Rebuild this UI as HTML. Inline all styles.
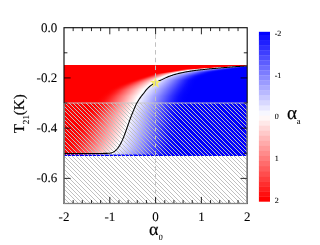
<!DOCTYPE html><html><head><meta charset="utf-8"><style>text{font-family:"Liberation Serif",serif;fill:#000;stroke:#000;stroke-width:0.08px;text-rendering:geometricPrecision}html,body{margin:0;padding:0;background:#fff}body{width:320px;height:245px;overflow:hidden;font-family:"Liberation Serif",serif}</style></head><body><svg width="320" height="245" viewBox="0 0 320 245" style="display:block;will-change:transform"><defs><linearGradient id="g0" gradientUnits="userSpaceOnUse" x1="0" y1="0" x2="320" y2="0"><stop offset="0.7547" stop-color="#ff0000"/><stop offset="0.7575" stop-color="#ff0404"/><stop offset="0.7597" stop-color="#ff0d0d"/><stop offset="0.7620" stop-color="#ff1d1d"/><stop offset="0.7643" stop-color="#ff3333"/><stop offset="0.7825" stop-color="#ffffff"/><stop offset="0.7916" stop-color="#c9c9ff"/><stop offset="0.8006" stop-color="#8a8aff"/><stop offset="0.8115" stop-color="#3838ff"/><stop offset="0.8151" stop-color="#2020ff"/><stop offset="0.8187" stop-color="#0d0dff"/><stop offset="0.8224" stop-color="#0404ff"/><stop offset="0.8267" stop-color="#0000ff"/></linearGradient><linearGradient id="g1" gradientUnits="userSpaceOnUse" x1="0" y1="0" x2="320" y2="0"><stop offset="0.7002" stop-color="#ff0000"/><stop offset="0.7029" stop-color="#ff0404"/><stop offset="0.7051" stop-color="#ff0d0d"/><stop offset="0.7073" stop-color="#ff1d1d"/><stop offset="0.7095" stop-color="#ff3333"/><stop offset="0.7271" stop-color="#ffffff"/><stop offset="0.7411" stop-color="#c9c9ff"/><stop offset="0.7551" stop-color="#8a8aff"/><stop offset="0.7720" stop-color="#3838ff"/><stop offset="0.7776" stop-color="#2020ff"/><stop offset="0.7832" stop-color="#0d0dff"/><stop offset="0.7888" stop-color="#0404ff"/><stop offset="0.7955" stop-color="#0000ff"/></linearGradient><linearGradient id="g2" gradientUnits="userSpaceOnUse" x1="0" y1="0" x2="320" y2="0"><stop offset="0.6520" stop-color="#ff0000"/><stop offset="0.6552" stop-color="#ff0404"/><stop offset="0.6578" stop-color="#ff0d0d"/><stop offset="0.6605" stop-color="#ff1d1d"/><stop offset="0.6631" stop-color="#ff3333"/><stop offset="0.6844" stop-color="#ffffff"/><stop offset="0.7008" stop-color="#c9c9ff"/><stop offset="0.7172" stop-color="#8a8aff"/><stop offset="0.7369" stop-color="#3838ff"/><stop offset="0.7434" stop-color="#2020ff"/><stop offset="0.7500" stop-color="#0d0dff"/><stop offset="0.7566" stop-color="#0404ff"/><stop offset="0.7644" stop-color="#0000ff"/></linearGradient><linearGradient id="g3" gradientUnits="userSpaceOnUse" x1="0" y1="0" x2="320" y2="0"><stop offset="0.6069" stop-color="#ff0000"/><stop offset="0.6108" stop-color="#ff0404"/><stop offset="0.6141" stop-color="#ff0d0d"/><stop offset="0.6173" stop-color="#ff1d1d"/><stop offset="0.6206" stop-color="#ff3333"/><stop offset="0.6466" stop-color="#ffffff"/><stop offset="0.6665" stop-color="#c9c9ff"/><stop offset="0.6864" stop-color="#8a8aff"/><stop offset="0.7103" stop-color="#3838ff"/><stop offset="0.7182" stop-color="#2020ff"/><stop offset="0.7262" stop-color="#0d0dff"/><stop offset="0.7341" stop-color="#0404ff"/><stop offset="0.7437" stop-color="#0000ff"/></linearGradient><linearGradient id="g4" gradientUnits="userSpaceOnUse" x1="0" y1="0" x2="320" y2="0"><stop offset="0.5624" stop-color="#ff0000"/><stop offset="0.5675" stop-color="#ff0404"/><stop offset="0.5717" stop-color="#ff0d0d"/><stop offset="0.5759" stop-color="#ff1d1d"/><stop offset="0.5802" stop-color="#ff3333"/><stop offset="0.6141" stop-color="#ffffff"/><stop offset="0.6361" stop-color="#c9c9ff"/><stop offset="0.6582" stop-color="#8a8aff"/><stop offset="0.6847" stop-color="#3838ff"/><stop offset="0.6935" stop-color="#2020ff"/><stop offset="0.7024" stop-color="#0d0dff"/><stop offset="0.7112" stop-color="#0404ff"/><stop offset="0.7218" stop-color="#0000ff"/></linearGradient><linearGradient id="g5" gradientUnits="userSpaceOnUse" x1="0" y1="0" x2="320" y2="0"><stop offset="0.5483" stop-color="#ff0000"/><stop offset="0.5520" stop-color="#ff0404"/><stop offset="0.5551" stop-color="#ff0d0d"/><stop offset="0.5582" stop-color="#ff1d1d"/><stop offset="0.5613" stop-color="#ff3333"/><stop offset="0.5862" stop-color="#ffffff"/><stop offset="0.6102" stop-color="#c9c9ff"/><stop offset="0.6343" stop-color="#8a8aff"/><stop offset="0.6632" stop-color="#3838ff"/><stop offset="0.6728" stop-color="#2020ff"/><stop offset="0.6824" stop-color="#0d0dff"/><stop offset="0.6920" stop-color="#0404ff"/><stop offset="0.7036" stop-color="#0000ff"/></linearGradient><linearGradient id="g6" gradientUnits="userSpaceOnUse" x1="0" y1="0" x2="320" y2="0"><stop offset="0.5295" stop-color="#ff0000"/><stop offset="0.5332" stop-color="#ff0404"/><stop offset="0.5362" stop-color="#ff0d0d"/><stop offset="0.5393" stop-color="#ff1d1d"/><stop offset="0.5423" stop-color="#ff3333"/><stop offset="0.5666" stop-color="#ffffff"/><stop offset="0.5906" stop-color="#c9c9ff"/><stop offset="0.6147" stop-color="#8a8aff"/><stop offset="0.6436" stop-color="#3838ff"/><stop offset="0.6533" stop-color="#2020ff"/><stop offset="0.6629" stop-color="#0d0dff"/><stop offset="0.6725" stop-color="#0404ff"/><stop offset="0.6841" stop-color="#0000ff"/></linearGradient><linearGradient id="g7" gradientUnits="userSpaceOnUse" x1="0" y1="0" x2="320" y2="0"><stop offset="0.5071" stop-color="#ff0000"/><stop offset="0.5116" stop-color="#ff0404"/><stop offset="0.5153" stop-color="#ff0d0d"/><stop offset="0.5190" stop-color="#ff1d1d"/><stop offset="0.5227" stop-color="#ff3333"/><stop offset="0.5525" stop-color="#ffffff"/><stop offset="0.5764" stop-color="#c9c9ff"/><stop offset="0.6004" stop-color="#8a8aff"/><stop offset="0.6291" stop-color="#3838ff"/><stop offset="0.6387" stop-color="#2020ff"/><stop offset="0.6482" stop-color="#0d0dff"/><stop offset="0.6578" stop-color="#0404ff"/><stop offset="0.6693" stop-color="#0000ff"/></linearGradient><linearGradient id="g8" gradientUnits="userSpaceOnUse" x1="0" y1="0" x2="320" y2="0"><stop offset="0.4852" stop-color="#ff0000"/><stop offset="0.4907" stop-color="#ff0404"/><stop offset="0.4952" stop-color="#ff0d0d"/><stop offset="0.4997" stop-color="#ff1d1d"/><stop offset="0.5043" stop-color="#ff3333"/><stop offset="0.5405" stop-color="#ffffff"/><stop offset="0.5650" stop-color="#c9c9ff"/><stop offset="0.5895" stop-color="#8a8aff"/><stop offset="0.6189" stop-color="#3838ff"/><stop offset="0.6287" stop-color="#2020ff"/><stop offset="0.6385" stop-color="#0d0dff"/><stop offset="0.6483" stop-color="#0404ff"/><stop offset="0.6600" stop-color="#0000ff"/></linearGradient><linearGradient id="g9" gradientUnits="userSpaceOnUse" x1="0" y1="0" x2="320" y2="0"><stop offset="0.4699" stop-color="#ff0000"/><stop offset="0.4758" stop-color="#ff0404"/><stop offset="0.4807" stop-color="#ff0d0d"/><stop offset="0.4856" stop-color="#ff1d1d"/><stop offset="0.4905" stop-color="#ff3333"/><stop offset="0.5298" stop-color="#ffffff"/><stop offset="0.5545" stop-color="#c9c9ff"/><stop offset="0.5793" stop-color="#8a8aff"/><stop offset="0.6089" stop-color="#3838ff"/><stop offset="0.6188" stop-color="#2020ff"/><stop offset="0.6287" stop-color="#0d0dff"/><stop offset="0.6386" stop-color="#0404ff"/><stop offset="0.6505" stop-color="#0000ff"/></linearGradient><linearGradient id="g10" gradientUnits="userSpaceOnUse" x1="0" y1="0" x2="320" y2="0"><stop offset="0.4601" stop-color="#ff0000"/><stop offset="0.4660" stop-color="#ff0404"/><stop offset="0.4709" stop-color="#ff0d0d"/><stop offset="0.4759" stop-color="#ff1d1d"/><stop offset="0.4808" stop-color="#ff3333"/><stop offset="0.5203" stop-color="#ffffff"/><stop offset="0.5450" stop-color="#c9c9ff"/><stop offset="0.5696" stop-color="#8a8aff"/><stop offset="0.5992" stop-color="#3838ff"/><stop offset="0.6091" stop-color="#2020ff"/><stop offset="0.6189" stop-color="#0d0dff"/><stop offset="0.6288" stop-color="#0404ff"/><stop offset="0.6406" stop-color="#0000ff"/></linearGradient><linearGradient id="g11" gradientUnits="userSpaceOnUse" x1="0" y1="0" x2="320" y2="0"><stop offset="0.4498" stop-color="#ff0000"/><stop offset="0.4560" stop-color="#ff0404"/><stop offset="0.4611" stop-color="#ff0d0d"/><stop offset="0.4663" stop-color="#ff1d1d"/><stop offset="0.4714" stop-color="#ff3333"/><stop offset="0.5125" stop-color="#ffffff"/><stop offset="0.5372" stop-color="#c9c9ff"/><stop offset="0.5619" stop-color="#8a8aff"/><stop offset="0.5915" stop-color="#3838ff"/><stop offset="0.6014" stop-color="#2020ff"/><stop offset="0.6113" stop-color="#0d0dff"/><stop offset="0.6212" stop-color="#0404ff"/><stop offset="0.6330" stop-color="#0000ff"/></linearGradient><linearGradient id="g12" gradientUnits="userSpaceOnUse" x1="0" y1="0" x2="320" y2="0"><stop offset="0.4399" stop-color="#ff0000"/><stop offset="0.4463" stop-color="#ff0404"/><stop offset="0.4516" stop-color="#ff0d0d"/><stop offset="0.4569" stop-color="#ff1d1d"/><stop offset="0.4622" stop-color="#ff3333"/><stop offset="0.5047" stop-color="#ffffff"/><stop offset="0.5300" stop-color="#c9c9ff"/><stop offset="0.5552" stop-color="#8a8aff"/><stop offset="0.5856" stop-color="#3838ff"/><stop offset="0.5957" stop-color="#2020ff"/><stop offset="0.6058" stop-color="#0d0dff"/><stop offset="0.6159" stop-color="#0404ff"/><stop offset="0.6280" stop-color="#0000ff"/></linearGradient><linearGradient id="g13" gradientUnits="userSpaceOnUse" x1="0" y1="0" x2="320" y2="0"><stop offset="0.4300" stop-color="#ff0000"/><stop offset="0.4367" stop-color="#ff0404"/><stop offset="0.4422" stop-color="#ff0d0d"/><stop offset="0.4477" stop-color="#ff1d1d"/><stop offset="0.4532" stop-color="#ff3333"/><stop offset="0.4974" stop-color="#ffffff"/><stop offset="0.5231" stop-color="#c9c9ff"/><stop offset="0.5488" stop-color="#8a8aff"/><stop offset="0.5797" stop-color="#3838ff"/><stop offset="0.5900" stop-color="#2020ff"/><stop offset="0.6003" stop-color="#0d0dff"/><stop offset="0.6106" stop-color="#0404ff"/><stop offset="0.6229" stop-color="#0000ff"/></linearGradient><linearGradient id="g14" gradientUnits="userSpaceOnUse" x1="0" y1="0" x2="320" y2="0"><stop offset="0.4200" stop-color="#ff0000"/><stop offset="0.4270" stop-color="#ff0404"/><stop offset="0.4328" stop-color="#ff0d0d"/><stop offset="0.4386" stop-color="#ff1d1d"/><stop offset="0.4444" stop-color="#ff3333"/><stop offset="0.4909" stop-color="#ffffff"/><stop offset="0.5168" stop-color="#c9c9ff"/><stop offset="0.5428" stop-color="#8a8aff"/><stop offset="0.5740" stop-color="#3838ff"/><stop offset="0.5844" stop-color="#2020ff"/><stop offset="0.5948" stop-color="#0d0dff"/><stop offset="0.6052" stop-color="#0404ff"/><stop offset="0.6176" stop-color="#0000ff"/></linearGradient><linearGradient id="g15" gradientUnits="userSpaceOnUse" x1="0" y1="0" x2="320" y2="0"><stop offset="0.4103" stop-color="#ff0000"/><stop offset="0.4176" stop-color="#ff0404"/><stop offset="0.4237" stop-color="#ff0d0d"/><stop offset="0.4299" stop-color="#ff1d1d"/><stop offset="0.4360" stop-color="#ff3333"/><stop offset="0.4848" stop-color="#ffffff"/><stop offset="0.5111" stop-color="#c9c9ff"/><stop offset="0.5375" stop-color="#8a8aff"/><stop offset="0.5691" stop-color="#3838ff"/><stop offset="0.5796" stop-color="#2020ff"/><stop offset="0.5901" stop-color="#0d0dff"/><stop offset="0.6007" stop-color="#0404ff"/><stop offset="0.6133" stop-color="#0000ff"/></linearGradient><linearGradient id="g16" gradientUnits="userSpaceOnUse" x1="0" y1="0" x2="320" y2="0"><stop offset="0.4005" stop-color="#ff0000"/><stop offset="0.4084" stop-color="#ff0404"/><stop offset="0.4150" stop-color="#ff0d0d"/><stop offset="0.4216" stop-color="#ff1d1d"/><stop offset="0.4282" stop-color="#ff3333"/><stop offset="0.4808" stop-color="#ffffff"/><stop offset="0.5076" stop-color="#c9c9ff"/><stop offset="0.5345" stop-color="#8a8aff"/><stop offset="0.5667" stop-color="#3838ff"/><stop offset="0.5775" stop-color="#2020ff"/><stop offset="0.5882" stop-color="#0d0dff"/><stop offset="0.5990" stop-color="#0404ff"/><stop offset="0.6119" stop-color="#0000ff"/></linearGradient><linearGradient id="g17" gradientUnits="userSpaceOnUse" x1="0" y1="0" x2="320" y2="0"><stop offset="0.3908" stop-color="#ff0000"/><stop offset="0.3992" stop-color="#ff0404"/><stop offset="0.4062" stop-color="#ff0d0d"/><stop offset="0.4133" stop-color="#ff1d1d"/><stop offset="0.4203" stop-color="#ff3333"/><stop offset="0.4767" stop-color="#ffffff"/><stop offset="0.5041" stop-color="#c9c9ff"/><stop offset="0.5315" stop-color="#8a8aff"/><stop offset="0.5644" stop-color="#3838ff"/><stop offset="0.5754" stop-color="#2020ff"/><stop offset="0.5863" stop-color="#0d0dff"/><stop offset="0.5973" stop-color="#0404ff"/><stop offset="0.6105" stop-color="#0000ff"/></linearGradient><linearGradient id="g18" gradientUnits="userSpaceOnUse" x1="0" y1="0" x2="320" y2="0"><stop offset="0.3829" stop-color="#ff0000"/><stop offset="0.3918" stop-color="#ff0404"/><stop offset="0.3991" stop-color="#ff0d0d"/><stop offset="0.4065" stop-color="#ff1d1d"/><stop offset="0.4138" stop-color="#ff3333"/><stop offset="0.4726" stop-color="#ffffff"/><stop offset="0.5006" stop-color="#c9c9ff"/><stop offset="0.5285" stop-color="#8a8aff"/><stop offset="0.5621" stop-color="#3838ff"/><stop offset="0.5733" stop-color="#2020ff"/><stop offset="0.5844" stop-color="#0d0dff"/><stop offset="0.5956" stop-color="#0404ff"/><stop offset="0.6090" stop-color="#0000ff"/></linearGradient><linearGradient id="g19" gradientUnits="userSpaceOnUse" x1="0" y1="0" x2="320" y2="0"><stop offset="0.3751" stop-color="#ff0000"/><stop offset="0.3843" stop-color="#ff0404"/><stop offset="0.3920" stop-color="#ff0d0d"/><stop offset="0.3996" stop-color="#ff1d1d"/><stop offset="0.4073" stop-color="#ff3333"/><stop offset="0.4686" stop-color="#ffffff"/><stop offset="0.4971" stop-color="#c9c9ff"/><stop offset="0.5256" stop-color="#8a8aff"/><stop offset="0.5597" stop-color="#3838ff"/><stop offset="0.5711" stop-color="#2020ff"/><stop offset="0.5825" stop-color="#0d0dff"/><stop offset="0.5939" stop-color="#0404ff"/><stop offset="0.6076" stop-color="#0000ff"/></linearGradient><linearGradient id="g20" gradientUnits="userSpaceOnUse" x1="0" y1="0" x2="320" y2="0"><stop offset="0.3673" stop-color="#ff0000"/><stop offset="0.3769" stop-color="#ff0404"/><stop offset="0.3848" stop-color="#ff0d0d"/><stop offset="0.3928" stop-color="#ff1d1d"/><stop offset="0.4008" stop-color="#ff3333"/><stop offset="0.4645" stop-color="#ffffff"/><stop offset="0.4936" stop-color="#c9c9ff"/><stop offset="0.5226" stop-color="#8a8aff"/><stop offset="0.5574" stop-color="#3838ff"/><stop offset="0.5690" stop-color="#2020ff"/><stop offset="0.5806" stop-color="#0d0dff"/><stop offset="0.5922" stop-color="#0404ff"/><stop offset="0.6062" stop-color="#0000ff"/></linearGradient><linearGradient id="g21" gradientUnits="userSpaceOnUse" x1="0" y1="0" x2="320" y2="0"><stop offset="0.3604" stop-color="#ff0000"/><stop offset="0.3703" stop-color="#ff0404"/><stop offset="0.3785" stop-color="#ff0d0d"/><stop offset="0.3867" stop-color="#ff1d1d"/><stop offset="0.3949" stop-color="#ff3333"/><stop offset="0.4606" stop-color="#ffffff"/><stop offset="0.4901" stop-color="#c9c9ff"/><stop offset="0.5196" stop-color="#8a8aff"/><stop offset="0.5551" stop-color="#3838ff"/><stop offset="0.5669" stop-color="#2020ff"/><stop offset="0.5787" stop-color="#0d0dff"/><stop offset="0.5905" stop-color="#0404ff"/><stop offset="0.6046" stop-color="#0000ff"/></linearGradient><linearGradient id="g22" gradientUnits="userSpaceOnUse" x1="0" y1="0" x2="320" y2="0"><stop offset="0.3545" stop-color="#ff0000"/><stop offset="0.3645" stop-color="#ff0404"/><stop offset="0.3729" stop-color="#ff0d0d"/><stop offset="0.3813" stop-color="#ff1d1d"/><stop offset="0.3897" stop-color="#ff3333"/><stop offset="0.4568" stop-color="#ffffff"/><stop offset="0.4868" stop-color="#c9c9ff"/><stop offset="0.5167" stop-color="#8a8aff"/><stop offset="0.5527" stop-color="#3838ff"/><stop offset="0.5647" stop-color="#2020ff"/><stop offset="0.5766" stop-color="#0d0dff"/><stop offset="0.5886" stop-color="#0404ff"/><stop offset="0.6030" stop-color="#0000ff"/></linearGradient><linearGradient id="g23" gradientUnits="userSpaceOnUse" x1="0" y1="0" x2="320" y2="0"><stop offset="0.3485" stop-color="#ff0000"/><stop offset="0.3588" stop-color="#ff0404"/><stop offset="0.3674" stop-color="#ff0d0d"/><stop offset="0.3759" stop-color="#ff1d1d"/><stop offset="0.3845" stop-color="#ff3333"/><stop offset="0.4530" stop-color="#ffffff"/><stop offset="0.4834" stop-color="#c9c9ff"/><stop offset="0.5138" stop-color="#8a8aff"/><stop offset="0.5503" stop-color="#3838ff"/><stop offset="0.5625" stop-color="#2020ff"/><stop offset="0.5746" stop-color="#0d0dff"/><stop offset="0.5868" stop-color="#0404ff"/><stop offset="0.6014" stop-color="#0000ff"/></linearGradient><linearGradient id="g24" gradientUnits="userSpaceOnUse" x1="0" y1="0" x2="320" y2="0"><stop offset="0.3425" stop-color="#ff0000"/><stop offset="0.3530" stop-color="#ff0404"/><stop offset="0.3618" stop-color="#ff0d0d"/><stop offset="0.3706" stop-color="#ff1d1d"/><stop offset="0.3794" stop-color="#ff3333"/><stop offset="0.4495" stop-color="#ffffff"/><stop offset="0.4803" stop-color="#c9c9ff"/><stop offset="0.5111" stop-color="#8a8aff"/><stop offset="0.5480" stop-color="#3838ff"/><stop offset="0.5603" stop-color="#2020ff"/><stop offset="0.5726" stop-color="#0d0dff"/><stop offset="0.5849" stop-color="#0404ff"/><stop offset="0.5996" stop-color="#0000ff"/></linearGradient><linearGradient id="g25" gradientUnits="userSpaceOnUse" x1="0" y1="0" x2="320" y2="0"><stop offset="0.3362" stop-color="#ff0000"/><stop offset="0.3472" stop-color="#ff0404"/><stop offset="0.3563" stop-color="#ff0d0d"/><stop offset="0.3653" stop-color="#ff1d1d"/><stop offset="0.3744" stop-color="#ff3333"/><stop offset="0.4472" stop-color="#ffffff"/><stop offset="0.4780" stop-color="#c9c9ff"/><stop offset="0.5089" stop-color="#8a8aff"/><stop offset="0.5459" stop-color="#3838ff"/><stop offset="0.5582" stop-color="#2020ff"/><stop offset="0.5705" stop-color="#0d0dff"/><stop offset="0.5829" stop-color="#0404ff"/><stop offset="0.5977" stop-color="#0000ff"/></linearGradient><linearGradient id="g26" gradientUnits="userSpaceOnUse" x1="0" y1="0" x2="320" y2="0"><stop offset="0.3322" stop-color="#ff0000"/><stop offset="0.3433" stop-color="#ff0404"/><stop offset="0.3526" stop-color="#ff0d0d"/><stop offset="0.3618" stop-color="#ff1d1d"/><stop offset="0.3710" stop-color="#ff3333"/><stop offset="0.4449" stop-color="#ffffff"/><stop offset="0.4758" stop-color="#c9c9ff"/><stop offset="0.5067" stop-color="#8a8aff"/><stop offset="0.5438" stop-color="#3838ff"/><stop offset="0.5562" stop-color="#2020ff"/><stop offset="0.5685" stop-color="#0d0dff"/><stop offset="0.5809" stop-color="#0404ff"/><stop offset="0.5957" stop-color="#0000ff"/></linearGradient><linearGradient id="g27" gradientUnits="userSpaceOnUse" x1="0" y1="0" x2="320" y2="0"><stop offset="0.3283" stop-color="#ff0000"/><stop offset="0.3395" stop-color="#ff0404"/><stop offset="0.3489" stop-color="#ff0d0d"/><stop offset="0.3582" stop-color="#ff1d1d"/><stop offset="0.3676" stop-color="#ff3333"/><stop offset="0.4426" stop-color="#ffffff"/><stop offset="0.4735" stop-color="#c9c9ff"/><stop offset="0.5045" stop-color="#8a8aff"/><stop offset="0.5417" stop-color="#3838ff"/><stop offset="0.5541" stop-color="#2020ff"/><stop offset="0.5665" stop-color="#0d0dff"/><stop offset="0.5789" stop-color="#0404ff"/><stop offset="0.5937" stop-color="#0000ff"/></linearGradient><linearGradient id="g28" gradientUnits="userSpaceOnUse" x1="0" y1="0" x2="320" y2="0"><stop offset="0.3243" stop-color="#ff0000"/><stop offset="0.3357" stop-color="#ff0404"/><stop offset="0.3452" stop-color="#ff0d0d"/><stop offset="0.3547" stop-color="#ff1d1d"/><stop offset="0.3642" stop-color="#ff3333"/><stop offset="0.4402" stop-color="#ffffff"/><stop offset="0.4713" stop-color="#c9c9ff"/><stop offset="0.5023" stop-color="#8a8aff"/><stop offset="0.5396" stop-color="#3838ff"/><stop offset="0.5520" stop-color="#2020ff"/><stop offset="0.5645" stop-color="#0d0dff"/><stop offset="0.5769" stop-color="#0404ff"/><stop offset="0.5918" stop-color="#0000ff"/></linearGradient><linearGradient id="g29" gradientUnits="userSpaceOnUse" x1="0" y1="0" x2="320" y2="0"><stop offset="0.3204" stop-color="#ff0000"/><stop offset="0.3319" stop-color="#ff0404"/><stop offset="0.3415" stop-color="#ff0d0d"/><stop offset="0.3511" stop-color="#ff1d1d"/><stop offset="0.3607" stop-color="#ff3333"/><stop offset="0.4375" stop-color="#ffffff"/><stop offset="0.4687" stop-color="#c9c9ff"/><stop offset="0.5000" stop-color="#8a8aff"/><stop offset="0.5374" stop-color="#3838ff"/><stop offset="0.5499" stop-color="#2020ff"/><stop offset="0.5624" stop-color="#0d0dff"/><stop offset="0.5749" stop-color="#0404ff"/><stop offset="0.5899" stop-color="#0000ff"/></linearGradient><linearGradient id="g30" gradientUnits="userSpaceOnUse" x1="0" y1="0" x2="320" y2="0"><stop offset="0.3165" stop-color="#ff0000"/><stop offset="0.3281" stop-color="#ff0404"/><stop offset="0.3378" stop-color="#ff0d0d"/><stop offset="0.3474" stop-color="#ff1d1d"/><stop offset="0.3571" stop-color="#ff3333"/><stop offset="0.4344" stop-color="#ffffff"/><stop offset="0.4659" stop-color="#c9c9ff"/><stop offset="0.4974" stop-color="#8a8aff"/><stop offset="0.5352" stop-color="#3838ff"/><stop offset="0.5478" stop-color="#2020ff"/><stop offset="0.5604" stop-color="#0d0dff"/><stop offset="0.5730" stop-color="#0404ff"/><stop offset="0.5881" stop-color="#0000ff"/></linearGradient><linearGradient id="g31" gradientUnits="userSpaceOnUse" x1="0" y1="0" x2="320" y2="0"><stop offset="0.3132" stop-color="#ff0000"/><stop offset="0.3248" stop-color="#ff0404"/><stop offset="0.3346" stop-color="#ff0d0d"/><stop offset="0.3443" stop-color="#ff1d1d"/><stop offset="0.3541" stop-color="#ff3333"/><stop offset="0.4320" stop-color="#ffffff"/><stop offset="0.4637" stop-color="#c9c9ff"/><stop offset="0.4954" stop-color="#8a8aff"/><stop offset="0.5334" stop-color="#3838ff"/><stop offset="0.5461" stop-color="#2020ff"/><stop offset="0.5588" stop-color="#0d0dff"/><stop offset="0.5715" stop-color="#0404ff"/><stop offset="0.5867" stop-color="#0000ff"/></linearGradient><linearGradient id="g32" gradientUnits="userSpaceOnUse" x1="0" y1="0" x2="320" y2="0"><stop offset="0.3102" stop-color="#ff0000"/><stop offset="0.3220" stop-color="#ff0404"/><stop offset="0.3319" stop-color="#ff0d0d"/><stop offset="0.3417" stop-color="#ff1d1d"/><stop offset="0.3516" stop-color="#ff3333"/><stop offset="0.4305" stop-color="#ffffff"/><stop offset="0.4623" stop-color="#c9c9ff"/><stop offset="0.4940" stop-color="#8a8aff"/><stop offset="0.5322" stop-color="#3838ff"/><stop offset="0.5449" stop-color="#2020ff"/><stop offset="0.5576" stop-color="#0d0dff"/><stop offset="0.5703" stop-color="#0404ff"/><stop offset="0.5856" stop-color="#0000ff"/></linearGradient><linearGradient id="g33" gradientUnits="userSpaceOnUse" x1="0" y1="0" x2="320" y2="0"><stop offset="0.3073" stop-color="#ff0000"/><stop offset="0.3192" stop-color="#ff0404"/><stop offset="0.3292" stop-color="#ff0d0d"/><stop offset="0.3392" stop-color="#ff1d1d"/><stop offset="0.3491" stop-color="#ff3333"/><stop offset="0.4289" stop-color="#ffffff"/><stop offset="0.4608" stop-color="#c9c9ff"/><stop offset="0.4927" stop-color="#8a8aff"/><stop offset="0.5309" stop-color="#3838ff"/><stop offset="0.5437" stop-color="#2020ff"/><stop offset="0.5564" stop-color="#0d0dff"/><stop offset="0.5692" stop-color="#0404ff"/><stop offset="0.5845" stop-color="#0000ff"/></linearGradient><linearGradient id="g34" gradientUnits="userSpaceOnUse" x1="0" y1="0" x2="320" y2="0"><stop offset="0.3043" stop-color="#ff0000"/><stop offset="0.3164" stop-color="#ff0404"/><stop offset="0.3265" stop-color="#ff0d0d"/><stop offset="0.3366" stop-color="#ff1d1d"/><stop offset="0.3467" stop-color="#ff3333"/><stop offset="0.4273" stop-color="#ffffff"/><stop offset="0.4593" stop-color="#c9c9ff"/><stop offset="0.4913" stop-color="#8a8aff"/><stop offset="0.5297" stop-color="#3838ff"/><stop offset="0.5425" stop-color="#2020ff"/><stop offset="0.5553" stop-color="#0d0dff"/><stop offset="0.5681" stop-color="#0404ff"/><stop offset="0.5834" stop-color="#0000ff"/></linearGradient><linearGradient id="g35" gradientUnits="userSpaceOnUse" x1="0" y1="0" x2="320" y2="0"><stop offset="0.3014" stop-color="#ff0000"/><stop offset="0.3136" stop-color="#ff0404"/><stop offset="0.3238" stop-color="#ff0d0d"/><stop offset="0.3340" stop-color="#ff1d1d"/><stop offset="0.3442" stop-color="#ff3333"/><stop offset="0.4258" stop-color="#ffffff"/><stop offset="0.4579" stop-color="#c9c9ff"/><stop offset="0.4899" stop-color="#8a8aff"/><stop offset="0.5284" stop-color="#3838ff"/><stop offset="0.5413" stop-color="#2020ff"/><stop offset="0.5541" stop-color="#0d0dff"/><stop offset="0.5669" stop-color="#0404ff"/><stop offset="0.5823" stop-color="#0000ff"/></linearGradient><linearGradient id="g36" gradientUnits="userSpaceOnUse" x1="0" y1="0" x2="320" y2="0"><stop offset="0.2984" stop-color="#ff0000"/><stop offset="0.3108" stop-color="#ff0404"/><stop offset="0.3211" stop-color="#ff0d0d"/><stop offset="0.3314" stop-color="#ff1d1d"/><stop offset="0.3417" stop-color="#ff3333"/><stop offset="0.4242" stop-color="#ffffff"/><stop offset="0.4564" stop-color="#c9c9ff"/><stop offset="0.4886" stop-color="#8a8aff"/><stop offset="0.5272" stop-color="#3838ff"/><stop offset="0.5401" stop-color="#2020ff"/><stop offset="0.5529" stop-color="#0d0dff"/><stop offset="0.5658" stop-color="#0404ff"/><stop offset="0.5812" stop-color="#0000ff"/></linearGradient><linearGradient id="g37" gradientUnits="userSpaceOnUse" x1="0" y1="0" x2="320" y2="0"><stop offset="0.2955" stop-color="#ff0000"/><stop offset="0.3080" stop-color="#ff0404"/><stop offset="0.3184" stop-color="#ff0d0d"/><stop offset="0.3288" stop-color="#ff1d1d"/><stop offset="0.3392" stop-color="#ff3333"/><stop offset="0.4227" stop-color="#ffffff"/><stop offset="0.4549" stop-color="#c9c9ff"/><stop offset="0.4872" stop-color="#8a8aff"/><stop offset="0.5259" stop-color="#3838ff"/><stop offset="0.5388" stop-color="#2020ff"/><stop offset="0.5518" stop-color="#0d0dff"/><stop offset="0.5647" stop-color="#0404ff"/><stop offset="0.5802" stop-color="#0000ff"/></linearGradient><linearGradient id="g38" gradientUnits="userSpaceOnUse" x1="0" y1="0" x2="320" y2="0"><stop offset="0.2925" stop-color="#ff0000"/><stop offset="0.3052" stop-color="#ff0404"/><stop offset="0.3157" stop-color="#ff0d0d"/><stop offset="0.3262" stop-color="#ff1d1d"/><stop offset="0.3368" stop-color="#ff3333"/><stop offset="0.4211" stop-color="#ffffff"/><stop offset="0.4535" stop-color="#c9c9ff"/><stop offset="0.4859" stop-color="#8a8aff"/><stop offset="0.5247" stop-color="#3838ff"/><stop offset="0.5376" stop-color="#2020ff"/><stop offset="0.5506" stop-color="#0d0dff"/><stop offset="0.5635" stop-color="#0404ff"/><stop offset="0.5791" stop-color="#0000ff"/></linearGradient><linearGradient id="g39" gradientUnits="userSpaceOnUse" x1="0" y1="0" x2="320" y2="0"><stop offset="0.2895" stop-color="#ff0000"/><stop offset="0.3023" stop-color="#ff0404"/><stop offset="0.3130" stop-color="#ff0d0d"/><stop offset="0.3237" stop-color="#ff1d1d"/><stop offset="0.3343" stop-color="#ff3333"/><stop offset="0.4197" stop-color="#ffffff"/><stop offset="0.4521" stop-color="#c9c9ff"/><stop offset="0.4846" stop-color="#8a8aff"/><stop offset="0.5235" stop-color="#3838ff"/><stop offset="0.5364" stop-color="#2020ff"/><stop offset="0.5494" stop-color="#0d0dff"/><stop offset="0.5624" stop-color="#0404ff"/><stop offset="0.5780" stop-color="#0000ff"/></linearGradient><linearGradient id="g40" gradientUnits="userSpaceOnUse" x1="0" y1="0" x2="320" y2="0"><stop offset="0.2866" stop-color="#ff0000"/><stop offset="0.2995" stop-color="#ff0404"/><stop offset="0.3103" stop-color="#ff0d0d"/><stop offset="0.3211" stop-color="#ff1d1d"/><stop offset="0.3319" stop-color="#ff3333"/><stop offset="0.4182" stop-color="#ffffff"/><stop offset="0.4507" stop-color="#c9c9ff"/><stop offset="0.4832" stop-color="#8a8aff"/><stop offset="0.5222" stop-color="#3838ff"/><stop offset="0.5352" stop-color="#2020ff"/><stop offset="0.5482" stop-color="#0d0dff"/><stop offset="0.5612" stop-color="#0404ff"/><stop offset="0.5768" stop-color="#0000ff"/></linearGradient><linearGradient id="g41" gradientUnits="userSpaceOnUse" x1="0" y1="0" x2="320" y2="0"><stop offset="0.2836" stop-color="#ff0000"/><stop offset="0.2967" stop-color="#ff0404"/><stop offset="0.3076" stop-color="#ff0d0d"/><stop offset="0.3185" stop-color="#ff1d1d"/><stop offset="0.3294" stop-color="#ff3333"/><stop offset="0.4168" stop-color="#ffffff"/><stop offset="0.4493" stop-color="#c9c9ff"/><stop offset="0.4819" stop-color="#8a8aff"/><stop offset="0.5210" stop-color="#3838ff"/><stop offset="0.5340" stop-color="#2020ff"/><stop offset="0.5471" stop-color="#0d0dff"/><stop offset="0.5601" stop-color="#0404ff"/><stop offset="0.5757" stop-color="#0000ff"/></linearGradient><linearGradient id="g42" gradientUnits="userSpaceOnUse" x1="0" y1="0" x2="320" y2="0"><stop offset="0.2807" stop-color="#ff0000"/><stop offset="0.2940" stop-color="#ff0404"/><stop offset="0.3050" stop-color="#ff0d0d"/><stop offset="0.3160" stop-color="#ff1d1d"/><stop offset="0.3271" stop-color="#ff3333"/><stop offset="0.4153" stop-color="#ffffff"/><stop offset="0.4480" stop-color="#c9c9ff"/><stop offset="0.4806" stop-color="#8a8aff"/><stop offset="0.5198" stop-color="#3838ff"/><stop offset="0.5328" stop-color="#2020ff"/><stop offset="0.5459" stop-color="#0d0dff"/><stop offset="0.5590" stop-color="#0404ff"/><stop offset="0.5746" stop-color="#0000ff"/></linearGradient><linearGradient id="g43" gradientUnits="userSpaceOnUse" x1="0" y1="0" x2="320" y2="0"><stop offset="0.2780" stop-color="#ff0000"/><stop offset="0.2914" stop-color="#ff0404"/><stop offset="0.3025" stop-color="#ff0d0d"/><stop offset="0.3136" stop-color="#ff1d1d"/><stop offset="0.3248" stop-color="#ff3333"/><stop offset="0.4139" stop-color="#ffffff"/><stop offset="0.4466" stop-color="#c9c9ff"/><stop offset="0.4794" stop-color="#8a8aff"/><stop offset="0.5188" stop-color="#3838ff"/><stop offset="0.5319" stop-color="#2020ff"/><stop offset="0.5450" stop-color="#0d0dff"/><stop offset="0.5581" stop-color="#0404ff"/><stop offset="0.5738" stop-color="#0000ff"/></linearGradient><linearGradient id="g44" gradientUnits="userSpaceOnUse" x1="0" y1="0" x2="320" y2="0"><stop offset="0.2753" stop-color="#ff0000"/><stop offset="0.2888" stop-color="#ff0404"/><stop offset="0.3000" stop-color="#ff0d0d"/><stop offset="0.3112" stop-color="#ff1d1d"/><stop offset="0.3225" stop-color="#ff3333"/><stop offset="0.4125" stop-color="#ffffff"/><stop offset="0.4454" stop-color="#c9c9ff"/><stop offset="0.4784" stop-color="#8a8aff"/><stop offset="0.5180" stop-color="#3838ff"/><stop offset="0.5311" stop-color="#2020ff"/><stop offset="0.5443" stop-color="#0d0dff"/><stop offset="0.5575" stop-color="#0404ff"/><stop offset="0.5733" stop-color="#0000ff"/></linearGradient><linearGradient id="g45" gradientUnits="userSpaceOnUse" x1="0" y1="0" x2="320" y2="0"><stop offset="0.2725" stop-color="#ff0000"/><stop offset="0.2861" stop-color="#ff0404"/><stop offset="0.2975" stop-color="#ff0d0d"/><stop offset="0.3089" stop-color="#ff1d1d"/><stop offset="0.3202" stop-color="#ff3333"/><stop offset="0.4111" stop-color="#ffffff"/><stop offset="0.4443" stop-color="#c9c9ff"/><stop offset="0.4774" stop-color="#8a8aff"/><stop offset="0.5172" stop-color="#3838ff"/><stop offset="0.5304" stop-color="#2020ff"/><stop offset="0.5437" stop-color="#0d0dff"/><stop offset="0.5569" stop-color="#0404ff"/><stop offset="0.5728" stop-color="#0000ff"/></linearGradient><linearGradient id="g46" gradientUnits="userSpaceOnUse" x1="0" y1="0" x2="320" y2="0"><stop offset="0.2697" stop-color="#ff0000"/><stop offset="0.2835" stop-color="#ff0404"/><stop offset="0.2950" stop-color="#ff0d0d"/><stop offset="0.3065" stop-color="#ff1d1d"/><stop offset="0.3180" stop-color="#ff3333"/><stop offset="0.4098" stop-color="#ffffff"/><stop offset="0.4431" stop-color="#c9c9ff"/><stop offset="0.4764" stop-color="#8a8aff"/><stop offset="0.5164" stop-color="#3838ff"/><stop offset="0.5297" stop-color="#2020ff"/><stop offset="0.5430" stop-color="#0d0dff"/><stop offset="0.5564" stop-color="#0404ff"/><stop offset="0.5723" stop-color="#0000ff"/></linearGradient><linearGradient id="g47" gradientUnits="userSpaceOnUse" x1="0" y1="0" x2="320" y2="0"><stop offset="0.2670" stop-color="#ff0000"/><stop offset="0.2809" stop-color="#ff0404"/><stop offset="0.2925" stop-color="#ff0d0d"/><stop offset="0.3041" stop-color="#ff1d1d"/><stop offset="0.3157" stop-color="#ff3333"/><stop offset="0.4085" stop-color="#ffffff"/><stop offset="0.4419" stop-color="#c9c9ff"/><stop offset="0.4754" stop-color="#8a8aff"/><stop offset="0.5156" stop-color="#3838ff"/><stop offset="0.5290" stop-color="#2020ff"/><stop offset="0.5424" stop-color="#0d0dff"/><stop offset="0.5558" stop-color="#0404ff"/><stop offset="0.5718" stop-color="#0000ff"/></linearGradient><linearGradient id="g48" gradientUnits="userSpaceOnUse" x1="0" y1="0" x2="320" y2="0"><stop offset="0.2642" stop-color="#ff0000"/><stop offset="0.2783" stop-color="#ff0404"/><stop offset="0.2900" stop-color="#ff0d0d"/><stop offset="0.3017" stop-color="#ff1d1d"/><stop offset="0.3134" stop-color="#ff3333"/><stop offset="0.4071" stop-color="#ffffff"/><stop offset="0.4408" stop-color="#c9c9ff"/><stop offset="0.4744" stop-color="#8a8aff"/><stop offset="0.5148" stop-color="#3838ff"/><stop offset="0.5283" stop-color="#2020ff"/><stop offset="0.5417" stop-color="#0d0dff"/><stop offset="0.5552" stop-color="#0404ff"/><stop offset="0.5713" stop-color="#0000ff"/></linearGradient><linearGradient id="g49" gradientUnits="userSpaceOnUse" x1="0" y1="0" x2="320" y2="0"><stop offset="0.2615" stop-color="#ff0000"/><stop offset="0.2757" stop-color="#ff0404"/><stop offset="0.2875" stop-color="#ff0d0d"/><stop offset="0.2993" stop-color="#ff1d1d"/><stop offset="0.3112" stop-color="#ff3333"/><stop offset="0.4058" stop-color="#ffffff"/><stop offset="0.4396" stop-color="#c9c9ff"/><stop offset="0.4734" stop-color="#8a8aff"/><stop offset="0.5140" stop-color="#3838ff"/><stop offset="0.5276" stop-color="#2020ff"/><stop offset="0.5411" stop-color="#0d0dff"/><stop offset="0.5546" stop-color="#0404ff"/><stop offset="0.5708" stop-color="#0000ff"/></linearGradient><linearGradient id="g50" gradientUnits="userSpaceOnUse" x1="0" y1="0" x2="320" y2="0"><stop offset="0.2587" stop-color="#ff0000"/><stop offset="0.2731" stop-color="#ff0404"/><stop offset="0.2850" stop-color="#ff0d0d"/><stop offset="0.2969" stop-color="#ff1d1d"/><stop offset="0.3089" stop-color="#ff3333"/><stop offset="0.4045" stop-color="#ffffff"/><stop offset="0.4385" stop-color="#c9c9ff"/><stop offset="0.4724" stop-color="#8a8aff"/><stop offset="0.5132" stop-color="#3838ff"/><stop offset="0.5268" stop-color="#2020ff"/><stop offset="0.5404" stop-color="#0d0dff"/><stop offset="0.5540" stop-color="#0404ff"/><stop offset="0.5703" stop-color="#0000ff"/></linearGradient><linearGradient id="g51" gradientUnits="userSpaceOnUse" x1="0" y1="0" x2="320" y2="0"><stop offset="0.2560" stop-color="#ff0000"/><stop offset="0.2704" stop-color="#ff0404"/><stop offset="0.2825" stop-color="#ff0d0d"/><stop offset="0.2946" stop-color="#ff1d1d"/><stop offset="0.3066" stop-color="#ff3333"/><stop offset="0.4031" stop-color="#ffffff"/><stop offset="0.4373" stop-color="#c9c9ff"/><stop offset="0.4715" stop-color="#8a8aff"/><stop offset="0.5124" stop-color="#3838ff"/><stop offset="0.5261" stop-color="#2020ff"/><stop offset="0.5398" stop-color="#0d0dff"/><stop offset="0.5534" stop-color="#0404ff"/><stop offset="0.5698" stop-color="#0000ff"/></linearGradient><linearGradient id="g52" gradientUnits="userSpaceOnUse" x1="0" y1="0" x2="320" y2="0"><stop offset="0.2531" stop-color="#ff0000"/><stop offset="0.2678" stop-color="#ff0404"/><stop offset="0.2800" stop-color="#ff0d0d"/><stop offset="0.2922" stop-color="#ff1d1d"/><stop offset="0.3044" stop-color="#ff3333"/><stop offset="0.4021" stop-color="#ffffff"/><stop offset="0.4364" stop-color="#c9c9ff"/><stop offset="0.4706" stop-color="#8a8aff"/><stop offset="0.5117" stop-color="#3838ff"/><stop offset="0.5254" stop-color="#2020ff"/><stop offset="0.5391" stop-color="#0d0dff"/><stop offset="0.5528" stop-color="#0404ff"/><stop offset="0.5693" stop-color="#0000ff"/></linearGradient><linearGradient id="g53" gradientUnits="userSpaceOnUse" x1="0" y1="0" x2="320" y2="0"><stop offset="0.2503" stop-color="#ff0000"/><stop offset="0.2651" stop-color="#ff0404"/><stop offset="0.2775" stop-color="#ff0d0d"/><stop offset="0.2899" stop-color="#ff1d1d"/><stop offset="0.3022" stop-color="#ff3333"/><stop offset="0.4012" stop-color="#ffffff"/><stop offset="0.4355" stop-color="#c9c9ff"/><stop offset="0.4698" stop-color="#8a8aff"/><stop offset="0.5110" stop-color="#3838ff"/><stop offset="0.5247" stop-color="#2020ff"/><stop offset="0.5385" stop-color="#0d0dff"/><stop offset="0.5522" stop-color="#0404ff"/><stop offset="0.5687" stop-color="#0000ff"/></linearGradient><linearGradient id="g54" gradientUnits="userSpaceOnUse" x1="0" y1="0" x2="320" y2="0"><stop offset="0.2475" stop-color="#ff0000"/><stop offset="0.2625" stop-color="#ff0404"/><stop offset="0.2750" stop-color="#ff0d0d"/><stop offset="0.2875" stop-color="#ff1d1d"/><stop offset="0.3000" stop-color="#ff3333"/><stop offset="0.4002" stop-color="#ffffff"/><stop offset="0.4346" stop-color="#c9c9ff"/><stop offset="0.4690" stop-color="#8a8aff"/><stop offset="0.5103" stop-color="#3838ff"/><stop offset="0.5241" stop-color="#2020ff"/><stop offset="0.5378" stop-color="#0d0dff"/><stop offset="0.5516" stop-color="#0404ff"/><stop offset="0.5681" stop-color="#0000ff"/></linearGradient><linearGradient id="g55" gradientUnits="userSpaceOnUse" x1="0" y1="0" x2="320" y2="0"><stop offset="0.2456" stop-color="#ff0000"/><stop offset="0.2607" stop-color="#ff0404"/><stop offset="0.2733" stop-color="#ff0d0d"/><stop offset="0.2859" stop-color="#ff1d1d"/><stop offset="0.2985" stop-color="#ff3333"/><stop offset="0.3992" stop-color="#ffffff"/><stop offset="0.4337" stop-color="#c9c9ff"/><stop offset="0.4682" stop-color="#8a8aff"/><stop offset="0.5096" stop-color="#3838ff"/><stop offset="0.5234" stop-color="#2020ff"/><stop offset="0.5372" stop-color="#0d0dff"/><stop offset="0.5510" stop-color="#0404ff"/><stop offset="0.5676" stop-color="#0000ff"/></linearGradient><linearGradient id="g56" gradientUnits="userSpaceOnUse" x1="0" y1="0" x2="320" y2="0"><stop offset="0.2437" stop-color="#ff0000"/><stop offset="0.2589" stop-color="#ff0404"/><stop offset="0.2716" stop-color="#ff0d0d"/><stop offset="0.2842" stop-color="#ff1d1d"/><stop offset="0.2969" stop-color="#ff3333"/><stop offset="0.3982" stop-color="#ffffff"/><stop offset="0.4328" stop-color="#c9c9ff"/><stop offset="0.4675" stop-color="#8a8aff"/><stop offset="0.5090" stop-color="#3838ff"/><stop offset="0.5229" stop-color="#2020ff"/><stop offset="0.5367" stop-color="#0d0dff"/><stop offset="0.5506" stop-color="#0404ff"/><stop offset="0.5672" stop-color="#0000ff"/></linearGradient><linearGradient id="g57" gradientUnits="userSpaceOnUse" x1="0" y1="0" x2="320" y2="0"><stop offset="0.2418" stop-color="#ff0000"/><stop offset="0.2571" stop-color="#ff0404"/><stop offset="0.2698" stop-color="#ff0d0d"/><stop offset="0.2826" stop-color="#ff1d1d"/><stop offset="0.2953" stop-color="#ff3333"/><stop offset="0.3972" stop-color="#ffffff"/><stop offset="0.4320" stop-color="#c9c9ff"/><stop offset="0.4667" stop-color="#8a8aff"/><stop offset="0.5084" stop-color="#3838ff"/><stop offset="0.5223" stop-color="#2020ff"/><stop offset="0.5362" stop-color="#0d0dff"/><stop offset="0.5501" stop-color="#0404ff"/><stop offset="0.5668" stop-color="#0000ff"/></linearGradient><linearGradient id="g58" gradientUnits="userSpaceOnUse" x1="0" y1="0" x2="320" y2="0"><stop offset="0.2399" stop-color="#ff0000"/><stop offset="0.2553" stop-color="#ff0404"/><stop offset="0.2681" stop-color="#ff0d0d"/><stop offset="0.2809" stop-color="#ff1d1d"/><stop offset="0.2937" stop-color="#ff3333"/><stop offset="0.3962" stop-color="#ffffff"/><stop offset="0.4311" stop-color="#c9c9ff"/><stop offset="0.4659" stop-color="#8a8aff"/><stop offset="0.5078" stop-color="#3838ff"/><stop offset="0.5217" stop-color="#2020ff"/><stop offset="0.5357" stop-color="#0d0dff"/><stop offset="0.5496" stop-color="#0404ff"/><stop offset="0.5664" stop-color="#0000ff"/></linearGradient><linearGradient id="g59" gradientUnits="userSpaceOnUse" x1="0" y1="0" x2="320" y2="0"><stop offset="0.2380" stop-color="#ff0000"/><stop offset="0.2535" stop-color="#ff0404"/><stop offset="0.2664" stop-color="#ff0d0d"/><stop offset="0.2793" stop-color="#ff1d1d"/><stop offset="0.2921" stop-color="#ff3333"/><stop offset="0.3952" stop-color="#ffffff"/><stop offset="0.4302" stop-color="#c9c9ff"/><stop offset="0.4652" stop-color="#8a8aff"/><stop offset="0.5072" stop-color="#3838ff"/><stop offset="0.5212" stop-color="#2020ff"/><stop offset="0.5352" stop-color="#0d0dff"/><stop offset="0.5491" stop-color="#0404ff"/><stop offset="0.5659" stop-color="#0000ff"/></linearGradient><linearGradient id="g60" gradientUnits="userSpaceOnUse" x1="0" y1="0" x2="320" y2="0"><stop offset="0.2361" stop-color="#ff0000"/><stop offset="0.2517" stop-color="#ff0404"/><stop offset="0.2647" stop-color="#ff0d0d"/><stop offset="0.2776" stop-color="#ff1d1d"/><stop offset="0.2906" stop-color="#ff3333"/><stop offset="0.3942" stop-color="#ffffff"/><stop offset="0.4293" stop-color="#c9c9ff"/><stop offset="0.4644" stop-color="#8a8aff"/><stop offset="0.5066" stop-color="#3838ff"/><stop offset="0.5206" stop-color="#2020ff"/><stop offset="0.5346" stop-color="#0d0dff"/><stop offset="0.5487" stop-color="#0404ff"/><stop offset="0.5655" stop-color="#0000ff"/></linearGradient><linearGradient id="g61" gradientUnits="userSpaceOnUse" x1="0" y1="0" x2="320" y2="0"><stop offset="0.2343" stop-color="#ff0000"/><stop offset="0.2499" stop-color="#ff0404"/><stop offset="0.2629" stop-color="#ff0d0d"/><stop offset="0.2760" stop-color="#ff1d1d"/><stop offset="0.2890" stop-color="#ff3333"/><stop offset="0.3932" stop-color="#ffffff"/><stop offset="0.4284" stop-color="#c9c9ff"/><stop offset="0.4637" stop-color="#8a8aff"/><stop offset="0.5059" stop-color="#3838ff"/><stop offset="0.5200" stop-color="#2020ff"/><stop offset="0.5341" stop-color="#0d0dff"/><stop offset="0.5482" stop-color="#0404ff"/><stop offset="0.5651" stop-color="#0000ff"/></linearGradient><linearGradient id="g62" gradientUnits="userSpaceOnUse" x1="0" y1="0" x2="320" y2="0"><stop offset="0.2324" stop-color="#ff0000"/><stop offset="0.2481" stop-color="#ff0404"/><stop offset="0.2612" stop-color="#ff0d0d"/><stop offset="0.2743" stop-color="#ff1d1d"/><stop offset="0.2874" stop-color="#ff3333"/><stop offset="0.3921" stop-color="#ffffff"/><stop offset="0.4274" stop-color="#c9c9ff"/><stop offset="0.4628" stop-color="#8a8aff"/><stop offset="0.5053" stop-color="#3838ff"/><stop offset="0.5194" stop-color="#2020ff"/><stop offset="0.5336" stop-color="#0d0dff"/><stop offset="0.5477" stop-color="#0404ff"/><stop offset="0.5647" stop-color="#0000ff"/></linearGradient><linearGradient id="g63" gradientUnits="userSpaceOnUse" x1="0" y1="0" x2="320" y2="0"><stop offset="0.2306" stop-color="#ff0000"/><stop offset="0.2463" stop-color="#ff0404"/><stop offset="0.2595" stop-color="#ff0d0d"/><stop offset="0.2726" stop-color="#ff1d1d"/><stop offset="0.2858" stop-color="#ff3333"/><stop offset="0.3909" stop-color="#ffffff"/><stop offset="0.4265" stop-color="#c9c9ff"/><stop offset="0.4620" stop-color="#8a8aff"/><stop offset="0.5046" stop-color="#3838ff"/><stop offset="0.5189" stop-color="#2020ff"/><stop offset="0.5331" stop-color="#0d0dff"/><stop offset="0.5473" stop-color="#0404ff"/><stop offset="0.5643" stop-color="#0000ff"/></linearGradient><linearGradient id="g64" gradientUnits="userSpaceOnUse" x1="0" y1="0" x2="320" y2="0"><stop offset="0.2287" stop-color="#ff0000"/><stop offset="0.2446" stop-color="#ff0404"/><stop offset="0.2578" stop-color="#ff0d0d"/><stop offset="0.2710" stop-color="#ff1d1d"/><stop offset="0.2842" stop-color="#ff3333"/><stop offset="0.3898" stop-color="#ffffff"/><stop offset="0.4255" stop-color="#c9c9ff"/><stop offset="0.4612" stop-color="#8a8aff"/><stop offset="0.5040" stop-color="#3838ff"/><stop offset="0.5183" stop-color="#2020ff"/><stop offset="0.5326" stop-color="#0d0dff"/><stop offset="0.5468" stop-color="#0404ff"/><stop offset="0.5640" stop-color="#0000ff"/></linearGradient><linearGradient id="g65" gradientUnits="userSpaceOnUse" x1="0" y1="0" x2="320" y2="0"><stop offset="0.2269" stop-color="#ff0000"/><stop offset="0.2428" stop-color="#ff0404"/><stop offset="0.2560" stop-color="#ff0d0d"/><stop offset="0.2693" stop-color="#ff1d1d"/><stop offset="0.2826" stop-color="#ff3333"/><stop offset="0.3887" stop-color="#ffffff"/><stop offset="0.4245" stop-color="#c9c9ff"/><stop offset="0.4604" stop-color="#8a8aff"/><stop offset="0.5034" stop-color="#3838ff"/><stop offset="0.5177" stop-color="#2020ff"/><stop offset="0.5320" stop-color="#0d0dff"/><stop offset="0.5464" stop-color="#0404ff"/><stop offset="0.5636" stop-color="#0000ff"/></linearGradient><linearGradient id="g66" gradientUnits="userSpaceOnUse" x1="0" y1="0" x2="320" y2="0"><stop offset="0.2250" stop-color="#ff0000"/><stop offset="0.2410" stop-color="#ff0404"/><stop offset="0.2543" stop-color="#ff0d0d"/><stop offset="0.2676" stop-color="#ff1d1d"/><stop offset="0.2810" stop-color="#ff3333"/><stop offset="0.3876" stop-color="#ffffff"/><stop offset="0.4235" stop-color="#c9c9ff"/><stop offset="0.4595" stop-color="#8a8aff"/><stop offset="0.5027" stop-color="#3838ff"/><stop offset="0.5171" stop-color="#2020ff"/><stop offset="0.5315" stop-color="#0d0dff"/><stop offset="0.5459" stop-color="#0404ff"/><stop offset="0.5632" stop-color="#0000ff"/></linearGradient><linearGradient id="g67" gradientUnits="userSpaceOnUse" x1="0" y1="0" x2="320" y2="0"><stop offset="0.2231" stop-color="#ff0000"/><stop offset="0.2392" stop-color="#ff0404"/><stop offset="0.2526" stop-color="#ff0d0d"/><stop offset="0.2660" stop-color="#ff1d1d"/><stop offset="0.2794" stop-color="#ff3333"/><stop offset="0.3864" stop-color="#ffffff"/><stop offset="0.4226" stop-color="#c9c9ff"/><stop offset="0.4587" stop-color="#8a8aff"/><stop offset="0.5021" stop-color="#3838ff"/><stop offset="0.5165" stop-color="#2020ff"/><stop offset="0.5310" stop-color="#0d0dff"/><stop offset="0.5454" stop-color="#0404ff"/><stop offset="0.5628" stop-color="#0000ff"/></linearGradient><linearGradient id="g68" gradientUnits="userSpaceOnUse" x1="0" y1="0" x2="320" y2="0"><stop offset="0.2213" stop-color="#ff0000"/><stop offset="0.2374" stop-color="#ff0404"/><stop offset="0.2509" stop-color="#ff0d0d"/><stop offset="0.2643" stop-color="#ff1d1d"/><stop offset="0.2778" stop-color="#ff3333"/><stop offset="0.3853" stop-color="#ffffff"/><stop offset="0.4216" stop-color="#c9c9ff"/><stop offset="0.4579" stop-color="#8a8aff"/><stop offset="0.5014" stop-color="#3838ff"/><stop offset="0.5160" stop-color="#2020ff"/><stop offset="0.5305" stop-color="#0d0dff"/><stop offset="0.5450" stop-color="#0404ff"/><stop offset="0.5624" stop-color="#0000ff"/></linearGradient><linearGradient id="g69" gradientUnits="userSpaceOnUse" x1="0" y1="0" x2="320" y2="0"><stop offset="0.2194" stop-color="#ff0000"/><stop offset="0.2356" stop-color="#ff0404"/><stop offset="0.2491" stop-color="#ff0d0d"/><stop offset="0.2626" stop-color="#ff1d1d"/><stop offset="0.2761" stop-color="#ff3333"/><stop offset="0.3841" stop-color="#ffffff"/><stop offset="0.4205" stop-color="#c9c9ff"/><stop offset="0.4570" stop-color="#8a8aff"/><stop offset="0.5008" stop-color="#3838ff"/><stop offset="0.5154" stop-color="#2020ff"/><stop offset="0.5299" stop-color="#0d0dff"/><stop offset="0.5445" stop-color="#0404ff"/><stop offset="0.5620" stop-color="#0000ff"/></linearGradient><linearGradient id="g70" gradientUnits="userSpaceOnUse" x1="0" y1="0" x2="320" y2="0"><stop offset="0.2175" stop-color="#ff0000"/><stop offset="0.2338" stop-color="#ff0404"/><stop offset="0.2473" stop-color="#ff0d0d"/><stop offset="0.2609" stop-color="#ff1d1d"/><stop offset="0.2744" stop-color="#ff3333"/><stop offset="0.3828" stop-color="#ffffff"/><stop offset="0.4195" stop-color="#c9c9ff"/><stop offset="0.4561" stop-color="#8a8aff"/><stop offset="0.5001" stop-color="#3838ff"/><stop offset="0.5147" stop-color="#2020ff"/><stop offset="0.5294" stop-color="#0d0dff"/><stop offset="0.5440" stop-color="#0404ff"/><stop offset="0.5616" stop-color="#0000ff"/></linearGradient><linearGradient id="g71" gradientUnits="userSpaceOnUse" x1="0" y1="0" x2="320" y2="0"><stop offset="0.2156" stop-color="#ff0000"/><stop offset="0.2319" stop-color="#ff0404"/><stop offset="0.2455" stop-color="#ff0d0d"/><stop offset="0.2591" stop-color="#ff1d1d"/><stop offset="0.2727" stop-color="#ff3333"/><stop offset="0.3816" stop-color="#ffffff"/><stop offset="0.4184" stop-color="#c9c9ff"/><stop offset="0.4552" stop-color="#8a8aff"/><stop offset="0.4993" stop-color="#3838ff"/><stop offset="0.5141" stop-color="#2020ff"/><stop offset="0.5288" stop-color="#0d0dff"/><stop offset="0.5435" stop-color="#0404ff"/><stop offset="0.5612" stop-color="#0000ff"/></linearGradient><linearGradient id="g72" gradientUnits="userSpaceOnUse" x1="0" y1="0" x2="320" y2="0"><stop offset="0.2137" stop-color="#ff0000"/><stop offset="0.2301" stop-color="#ff0404"/><stop offset="0.2437" stop-color="#ff0d0d"/><stop offset="0.2574" stop-color="#ff1d1d"/><stop offset="0.2711" stop-color="#ff3333"/><stop offset="0.3803" stop-color="#ffffff"/><stop offset="0.4173" stop-color="#c9c9ff"/><stop offset="0.4542" stop-color="#8a8aff"/><stop offset="0.4986" stop-color="#3838ff"/><stop offset="0.5134" stop-color="#2020ff"/><stop offset="0.5282" stop-color="#0d0dff"/><stop offset="0.5430" stop-color="#0404ff"/><stop offset="0.5607" stop-color="#0000ff"/></linearGradient><linearGradient id="g73" gradientUnits="userSpaceOnUse" x1="0" y1="0" x2="320" y2="0"><stop offset="0.2118" stop-color="#ff0000"/><stop offset="0.2283" stop-color="#ff0404"/><stop offset="0.2420" stop-color="#ff0d0d"/><stop offset="0.2557" stop-color="#ff1d1d"/><stop offset="0.2694" stop-color="#ff3333"/><stop offset="0.3791" stop-color="#ffffff"/><stop offset="0.4162" stop-color="#c9c9ff"/><stop offset="0.4533" stop-color="#8a8aff"/><stop offset="0.4979" stop-color="#3838ff"/><stop offset="0.5127" stop-color="#2020ff"/><stop offset="0.5276" stop-color="#0d0dff"/><stop offset="0.5424" stop-color="#0404ff"/><stop offset="0.5602" stop-color="#0000ff"/></linearGradient><linearGradient id="g74" gradientUnits="userSpaceOnUse" x1="0" y1="0" x2="320" y2="0"><stop offset="0.2099" stop-color="#ff0000"/><stop offset="0.2264" stop-color="#ff0404"/><stop offset="0.2402" stop-color="#ff0d0d"/><stop offset="0.2539" stop-color="#ff1d1d"/><stop offset="0.2677" stop-color="#ff3333"/><stop offset="0.3778" stop-color="#ffffff"/><stop offset="0.4151" stop-color="#c9c9ff"/><stop offset="0.4524" stop-color="#8a8aff"/><stop offset="0.4971" stop-color="#3838ff"/><stop offset="0.5120" stop-color="#2020ff"/><stop offset="0.5270" stop-color="#0d0dff"/><stop offset="0.5419" stop-color="#0404ff"/><stop offset="0.5598" stop-color="#0000ff"/></linearGradient><linearGradient id="g75" gradientUnits="userSpaceOnUse" x1="0" y1="0" x2="320" y2="0"><stop offset="0.2081" stop-color="#ff0000"/><stop offset="0.2246" stop-color="#ff0404"/><stop offset="0.2384" stop-color="#ff0d0d"/><stop offset="0.2522" stop-color="#ff1d1d"/><stop offset="0.2660" stop-color="#ff3333"/><stop offset="0.3762" stop-color="#ffffff"/><stop offset="0.4137" stop-color="#c9c9ff"/><stop offset="0.4513" stop-color="#8a8aff"/><stop offset="0.4963" stop-color="#3838ff"/><stop offset="0.5113" stop-color="#2020ff"/><stop offset="0.5263" stop-color="#0d0dff"/><stop offset="0.5414" stop-color="#0404ff"/><stop offset="0.5594" stop-color="#0000ff"/></linearGradient><linearGradient id="g76" gradientUnits="userSpaceOnUse" x1="0" y1="0" x2="320" y2="0"><stop offset="0.2063" stop-color="#ff0000"/><stop offset="0.2228" stop-color="#ff0404"/><stop offset="0.2366" stop-color="#ff0d0d"/><stop offset="0.2504" stop-color="#ff1d1d"/><stop offset="0.2642" stop-color="#ff3333"/><stop offset="0.3744" stop-color="#ffffff"/><stop offset="0.4123" stop-color="#c9c9ff"/><stop offset="0.4501" stop-color="#8a8aff"/><stop offset="0.4955" stop-color="#3838ff"/><stop offset="0.5106" stop-color="#2020ff"/><stop offset="0.5257" stop-color="#0d0dff"/><stop offset="0.5409" stop-color="#0404ff"/><stop offset="0.5590" stop-color="#0000ff"/></linearGradient><linearGradient id="g77" gradientUnits="userSpaceOnUse" x1="0" y1="0" x2="320" y2="0"><stop offset="0.2045" stop-color="#ff0000"/><stop offset="0.2210" stop-color="#ff0404"/><stop offset="0.2348" stop-color="#ff0d0d"/><stop offset="0.2486" stop-color="#ff1d1d"/><stop offset="0.2624" stop-color="#ff3333"/><stop offset="0.3727" stop-color="#ffffff"/><stop offset="0.4108" stop-color="#c9c9ff"/><stop offset="0.4489" stop-color="#8a8aff"/><stop offset="0.4946" stop-color="#3838ff"/><stop offset="0.5099" stop-color="#2020ff"/><stop offset="0.5251" stop-color="#0d0dff"/><stop offset="0.5404" stop-color="#0404ff"/><stop offset="0.5587" stop-color="#0000ff"/></linearGradient><linearGradient id="g78" gradientUnits="userSpaceOnUse" x1="0" y1="0" x2="320" y2="0"><stop offset="0.2027" stop-color="#ff0000"/><stop offset="0.2192" stop-color="#ff0404"/><stop offset="0.2330" stop-color="#ff0d0d"/><stop offset="0.2468" stop-color="#ff1d1d"/><stop offset="0.2606" stop-color="#ff3333"/><stop offset="0.3709" stop-color="#ffffff"/><stop offset="0.4093" stop-color="#c9c9ff"/><stop offset="0.4477" stop-color="#8a8aff"/><stop offset="0.4938" stop-color="#3838ff"/><stop offset="0.5092" stop-color="#2020ff"/><stop offset="0.5245" stop-color="#0d0dff"/><stop offset="0.5399" stop-color="#0404ff"/><stop offset="0.5583" stop-color="#0000ff"/></linearGradient><linearGradient id="g79" gradientUnits="userSpaceOnUse" x1="0" y1="0" x2="320" y2="0"><stop offset="0.2009" stop-color="#ff0000"/><stop offset="0.2175" stop-color="#ff0404"/><stop offset="0.2313" stop-color="#ff0d0d"/><stop offset="0.2450" stop-color="#ff1d1d"/><stop offset="0.2588" stop-color="#ff3333"/><stop offset="0.3692" stop-color="#ffffff"/><stop offset="0.4079" stop-color="#c9c9ff"/><stop offset="0.4466" stop-color="#8a8aff"/><stop offset="0.4930" stop-color="#3838ff"/><stop offset="0.5084" stop-color="#2020ff"/><stop offset="0.5239" stop-color="#0d0dff"/><stop offset="0.5394" stop-color="#0404ff"/><stop offset="0.5580" stop-color="#0000ff"/></linearGradient><linearGradient id="g80" gradientUnits="userSpaceOnUse" x1="0" y1="0" x2="320" y2="0"><stop offset="0.1992" stop-color="#ff0000"/><stop offset="0.2157" stop-color="#ff0404"/><stop offset="0.2295" stop-color="#ff0d0d"/><stop offset="0.2432" stop-color="#ff1d1d"/><stop offset="0.2570" stop-color="#ff3333"/><stop offset="0.3671" stop-color="#ffffff"/><stop offset="0.4062" stop-color="#c9c9ff"/><stop offset="0.4452" stop-color="#8a8aff"/><stop offset="0.4921" stop-color="#3838ff"/><stop offset="0.5077" stop-color="#2020ff"/><stop offset="0.5233" stop-color="#0d0dff"/><stop offset="0.5389" stop-color="#0404ff"/><stop offset="0.5577" stop-color="#0000ff"/></linearGradient><linearGradient id="g81" gradientUnits="userSpaceOnUse" x1="0" y1="0" x2="320" y2="0"><stop offset="0.1975" stop-color="#ff0000"/><stop offset="0.2140" stop-color="#ff0404"/><stop offset="0.2277" stop-color="#ff0d0d"/><stop offset="0.2414" stop-color="#ff1d1d"/><stop offset="0.2551" stop-color="#ff3333"/><stop offset="0.3649" stop-color="#ffffff"/><stop offset="0.4044" stop-color="#c9c9ff"/><stop offset="0.4438" stop-color="#8a8aff"/><stop offset="0.4911" stop-color="#3838ff"/><stop offset="0.5069" stop-color="#2020ff"/><stop offset="0.5227" stop-color="#0d0dff"/><stop offset="0.5385" stop-color="#0404ff"/><stop offset="0.5574" stop-color="#0000ff"/></linearGradient><linearGradient id="g82" gradientUnits="userSpaceOnUse" x1="0" y1="0" x2="320" y2="0"><stop offset="0.1958" stop-color="#ff0000"/><stop offset="0.2122" stop-color="#ff0404"/><stop offset="0.2259" stop-color="#ff0d0d"/><stop offset="0.2396" stop-color="#ff1d1d"/><stop offset="0.2533" stop-color="#ff3333"/><stop offset="0.3627" stop-color="#ffffff"/><stop offset="0.4026" stop-color="#c9c9ff"/><stop offset="0.4424" stop-color="#8a8aff"/><stop offset="0.4902" stop-color="#3838ff"/><stop offset="0.5062" stop-color="#2020ff"/><stop offset="0.5221" stop-color="#0d0dff"/><stop offset="0.5380" stop-color="#0404ff"/><stop offset="0.5572" stop-color="#0000ff"/></linearGradient><linearGradient id="g83" gradientUnits="userSpaceOnUse" x1="0" y1="0" x2="320" y2="0"><stop offset="0.1947" stop-color="#ff0000"/><stop offset="0.2110" stop-color="#ff0404"/><stop offset="0.2246" stop-color="#ff0d0d"/><stop offset="0.2382" stop-color="#ff1d1d"/><stop offset="0.2518" stop-color="#ff3333"/><stop offset="0.3605" stop-color="#ffffff"/><stop offset="0.4008" stop-color="#c9c9ff"/><stop offset="0.4410" stop-color="#8a8aff"/><stop offset="0.4893" stop-color="#3838ff"/><stop offset="0.5054" stop-color="#2020ff"/><stop offset="0.5215" stop-color="#0d0dff"/><stop offset="0.5376" stop-color="#0404ff"/><stop offset="0.5569" stop-color="#0000ff"/></linearGradient><linearGradient id="g84" gradientUnits="userSpaceOnUse" x1="0" y1="0" x2="320" y2="0"><stop offset="0.1942" stop-color="#ff0000"/><stop offset="0.2104" stop-color="#ff0404"/><stop offset="0.2238" stop-color="#ff0d0d"/><stop offset="0.2373" stop-color="#ff1d1d"/><stop offset="0.2507" stop-color="#ff3333"/><stop offset="0.3584" stop-color="#ffffff"/><stop offset="0.3990" stop-color="#c9c9ff"/><stop offset="0.4396" stop-color="#8a8aff"/><stop offset="0.4884" stop-color="#3838ff"/><stop offset="0.5046" stop-color="#2020ff"/><stop offset="0.5209" stop-color="#0d0dff"/><stop offset="0.5371" stop-color="#0404ff"/><stop offset="0.5566" stop-color="#0000ff"/></linearGradient><linearGradient id="g85" gradientUnits="userSpaceOnUse" x1="0" y1="0" x2="320" y2="0"><stop offset="0.1941" stop-color="#ff0000"/><stop offset="0.2099" stop-color="#ff0404"/><stop offset="0.2230" stop-color="#ff0d0d"/><stop offset="0.2362" stop-color="#ff1d1d"/><stop offset="0.2494" stop-color="#ff3333"/><stop offset="0.3546" stop-color="#ffffff"/><stop offset="0.3960" stop-color="#c9c9ff"/><stop offset="0.4374" stop-color="#8a8aff"/><stop offset="0.4871" stop-color="#3838ff"/><stop offset="0.5037" stop-color="#2020ff"/><stop offset="0.5203" stop-color="#0d0dff"/><stop offset="0.5368" stop-color="#0404ff"/><stop offset="0.5567" stop-color="#0000ff"/></linearGradient><linearGradient id="g86" gradientUnits="userSpaceOnUse" x1="0" y1="0" x2="320" y2="0"><stop offset="0.1941" stop-color="#ff0000"/><stop offset="0.2095" stop-color="#ff0404"/><stop offset="0.2223" stop-color="#ff0d0d"/><stop offset="0.2351" stop-color="#ff1d1d"/><stop offset="0.2479" stop-color="#ff3333"/><stop offset="0.3502" stop-color="#ffffff"/><stop offset="0.3926" stop-color="#c9c9ff"/><stop offset="0.4350" stop-color="#8a8aff"/><stop offset="0.4858" stop-color="#3838ff"/><stop offset="0.5027" stop-color="#2020ff"/><stop offset="0.5197" stop-color="#0d0dff"/><stop offset="0.5366" stop-color="#0404ff"/><stop offset="0.5569" stop-color="#0000ff"/></linearGradient><linearGradient id="g87" gradientUnits="userSpaceOnUse" x1="0" y1="0" x2="320" y2="0"><stop offset="0.1941" stop-color="#ff0000"/><stop offset="0.2090" stop-color="#ff0404"/><stop offset="0.2215" stop-color="#ff0d0d"/><stop offset="0.2339" stop-color="#ff1d1d"/><stop offset="0.2464" stop-color="#ff3333"/><stop offset="0.3459" stop-color="#ffffff"/><stop offset="0.3892" stop-color="#c9c9ff"/><stop offset="0.4325" stop-color="#8a8aff"/><stop offset="0.4844" stop-color="#3838ff"/><stop offset="0.5017" stop-color="#2020ff"/><stop offset="0.5191" stop-color="#0d0dff"/><stop offset="0.5364" stop-color="#0404ff"/><stop offset="0.5571" stop-color="#0000ff"/></linearGradient><linearGradient id="g88" gradientUnits="userSpaceOnUse" x1="0" y1="0" x2="320" y2="0"><stop offset="0.1937" stop-color="#ff0000"/><stop offset="0.2085" stop-color="#ff0404"/><stop offset="0.2207" stop-color="#ff0d0d"/><stop offset="0.2330" stop-color="#ff1d1d"/><stop offset="0.2452" stop-color="#ff3333"/><stop offset="0.3432" stop-color="#ffffff"/><stop offset="0.3870" stop-color="#c9c9ff"/><stop offset="0.4307" stop-color="#8a8aff"/><stop offset="0.4832" stop-color="#3838ff"/><stop offset="0.5007" stop-color="#2020ff"/><stop offset="0.5182" stop-color="#0d0dff"/><stop offset="0.5357" stop-color="#0404ff"/><stop offset="0.5567" stop-color="#0000ff"/></linearGradient><linearGradient id="g89" gradientUnits="userSpaceOnUse" x1="0" y1="0" x2="320" y2="0"><stop offset="0.1930" stop-color="#ff0000"/><stop offset="0.2077" stop-color="#ff0404"/><stop offset="0.2199" stop-color="#ff0d0d"/><stop offset="0.2321" stop-color="#ff1d1d"/><stop offset="0.2444" stop-color="#ff3333"/><stop offset="0.3422" stop-color="#ffffff"/><stop offset="0.3859" stop-color="#c9c9ff"/><stop offset="0.4297" stop-color="#8a8aff"/><stop offset="0.4822" stop-color="#3838ff"/><stop offset="0.4997" stop-color="#2020ff"/><stop offset="0.5172" stop-color="#0d0dff"/><stop offset="0.5347" stop-color="#0404ff"/><stop offset="0.5557" stop-color="#0000ff"/></linearGradient><linearGradient id="g90" gradientUnits="userSpaceOnUse" x1="0" y1="0" x2="320" y2="0"><stop offset="0.1923" stop-color="#ff0000"/><stop offset="0.2069" stop-color="#ff0404"/><stop offset="0.2191" stop-color="#ff0d0d"/><stop offset="0.2313" stop-color="#ff1d1d"/><stop offset="0.2435" stop-color="#ff3333"/><stop offset="0.3411" stop-color="#ffffff"/><stop offset="0.3849" stop-color="#c9c9ff"/><stop offset="0.4286" stop-color="#8a8aff"/><stop offset="0.4811" stop-color="#3838ff"/><stop offset="0.4986" stop-color="#2020ff"/><stop offset="0.5161" stop-color="#0d0dff"/><stop offset="0.5336" stop-color="#0404ff"/><stop offset="0.5546" stop-color="#0000ff"/></linearGradient><clipPath id="hc"><rect x="64.00" y="103.00" width="183.20" height="100.50"/></clipPath><clipPath id="pc"><rect x="64.00" y="27.70" width="183.20" height="175.80"/></clipPath></defs><rect width="320" height="245" fill="#fff"/><g shape-rendering="crispEdges"><rect x="64.0" y="65.00" width="183.2" height="1.02" fill="url(#g0)"/><rect x="64.0" y="66.00" width="183.2" height="1.02" fill="url(#g1)"/><rect x="64.0" y="67.00" width="183.2" height="1.02" fill="url(#g2)"/><rect x="64.0" y="68.00" width="183.2" height="1.02" fill="url(#g3)"/><rect x="64.0" y="69.00" width="183.2" height="1.02" fill="url(#g4)"/><rect x="64.0" y="70.00" width="183.2" height="1.02" fill="url(#g5)"/><rect x="64.0" y="71.00" width="183.2" height="1.02" fill="url(#g6)"/><rect x="64.0" y="72.00" width="183.2" height="1.02" fill="url(#g7)"/><rect x="64.0" y="73.00" width="183.2" height="1.02" fill="url(#g8)"/><rect x="64.0" y="74.00" width="183.2" height="1.02" fill="url(#g9)"/><rect x="64.0" y="75.00" width="183.2" height="1.02" fill="url(#g10)"/><rect x="64.0" y="76.00" width="183.2" height="1.02" fill="url(#g11)"/><rect x="64.0" y="77.00" width="183.2" height="1.02" fill="url(#g12)"/><rect x="64.0" y="78.00" width="183.2" height="1.02" fill="url(#g13)"/><rect x="64.0" y="79.00" width="183.2" height="1.02" fill="url(#g14)"/><rect x="64.0" y="80.00" width="183.2" height="1.02" fill="url(#g15)"/><rect x="64.0" y="81.00" width="183.2" height="1.02" fill="url(#g16)"/><rect x="64.0" y="82.00" width="183.2" height="1.02" fill="url(#g17)"/><rect x="64.0" y="83.00" width="183.2" height="1.02" fill="url(#g18)"/><rect x="64.0" y="84.00" width="183.2" height="1.02" fill="url(#g19)"/><rect x="64.0" y="85.00" width="183.2" height="1.02" fill="url(#g20)"/><rect x="64.0" y="86.00" width="183.2" height="1.02" fill="url(#g21)"/><rect x="64.0" y="87.00" width="183.2" height="1.02" fill="url(#g22)"/><rect x="64.0" y="88.00" width="183.2" height="1.02" fill="url(#g23)"/><rect x="64.0" y="89.00" width="183.2" height="1.02" fill="url(#g24)"/><rect x="64.0" y="90.00" width="183.2" height="1.02" fill="url(#g25)"/><rect x="64.0" y="91.00" width="183.2" height="1.02" fill="url(#g26)"/><rect x="64.0" y="92.00" width="183.2" height="1.02" fill="url(#g27)"/><rect x="64.0" y="93.00" width="183.2" height="1.02" fill="url(#g28)"/><rect x="64.0" y="94.00" width="183.2" height="1.02" fill="url(#g29)"/><rect x="64.0" y="95.00" width="183.2" height="1.02" fill="url(#g30)"/><rect x="64.0" y="96.00" width="183.2" height="1.02" fill="url(#g31)"/><rect x="64.0" y="97.00" width="183.2" height="1.02" fill="url(#g32)"/><rect x="64.0" y="98.00" width="183.2" height="1.02" fill="url(#g33)"/><rect x="64.0" y="99.00" width="183.2" height="1.02" fill="url(#g34)"/><rect x="64.0" y="100.00" width="183.2" height="1.02" fill="url(#g35)"/><rect x="64.0" y="101.00" width="183.2" height="1.02" fill="url(#g36)"/><rect x="64.0" y="102.00" width="183.2" height="1.02" fill="url(#g37)"/><rect x="64.0" y="103.00" width="183.2" height="1.02" fill="url(#g38)"/><rect x="64.0" y="104.00" width="183.2" height="1.02" fill="url(#g39)"/><rect x="64.0" y="105.00" width="183.2" height="1.02" fill="url(#g40)"/><rect x="64.0" y="106.00" width="183.2" height="1.02" fill="url(#g41)"/><rect x="64.0" y="107.00" width="183.2" height="1.02" fill="url(#g42)"/><rect x="64.0" y="108.00" width="183.2" height="1.02" fill="url(#g43)"/><rect x="64.0" y="109.00" width="183.2" height="1.02" fill="url(#g44)"/><rect x="64.0" y="110.00" width="183.2" height="1.02" fill="url(#g45)"/><rect x="64.0" y="111.00" width="183.2" height="1.02" fill="url(#g46)"/><rect x="64.0" y="112.00" width="183.2" height="1.02" fill="url(#g47)"/><rect x="64.0" y="113.00" width="183.2" height="1.02" fill="url(#g48)"/><rect x="64.0" y="114.00" width="183.2" height="1.02" fill="url(#g49)"/><rect x="64.0" y="115.00" width="183.2" height="1.02" fill="url(#g50)"/><rect x="64.0" y="116.00" width="183.2" height="1.02" fill="url(#g51)"/><rect x="64.0" y="117.00" width="183.2" height="1.02" fill="url(#g52)"/><rect x="64.0" y="118.00" width="183.2" height="1.02" fill="url(#g53)"/><rect x="64.0" y="119.00" width="183.2" height="1.02" fill="url(#g54)"/><rect x="64.0" y="120.00" width="183.2" height="1.02" fill="url(#g55)"/><rect x="64.0" y="121.00" width="183.2" height="1.02" fill="url(#g56)"/><rect x="64.0" y="122.00" width="183.2" height="1.02" fill="url(#g57)"/><rect x="64.0" y="123.00" width="183.2" height="1.02" fill="url(#g58)"/><rect x="64.0" y="124.00" width="183.2" height="1.02" fill="url(#g59)"/><rect x="64.0" y="125.00" width="183.2" height="1.02" fill="url(#g60)"/><rect x="64.0" y="126.00" width="183.2" height="1.02" fill="url(#g61)"/><rect x="64.0" y="127.00" width="183.2" height="1.02" fill="url(#g62)"/><rect x="64.0" y="128.00" width="183.2" height="1.02" fill="url(#g63)"/><rect x="64.0" y="129.00" width="183.2" height="1.02" fill="url(#g64)"/><rect x="64.0" y="130.00" width="183.2" height="1.02" fill="url(#g65)"/><rect x="64.0" y="131.00" width="183.2" height="1.02" fill="url(#g66)"/><rect x="64.0" y="132.00" width="183.2" height="1.02" fill="url(#g67)"/><rect x="64.0" y="133.00" width="183.2" height="1.02" fill="url(#g68)"/><rect x="64.0" y="134.00" width="183.2" height="1.02" fill="url(#g69)"/><rect x="64.0" y="135.00" width="183.2" height="1.02" fill="url(#g70)"/><rect x="64.0" y="136.00" width="183.2" height="1.02" fill="url(#g71)"/><rect x="64.0" y="137.00" width="183.2" height="1.02" fill="url(#g72)"/><rect x="64.0" y="138.00" width="183.2" height="1.02" fill="url(#g73)"/><rect x="64.0" y="139.00" width="183.2" height="1.02" fill="url(#g74)"/><rect x="64.0" y="140.00" width="183.2" height="1.02" fill="url(#g75)"/><rect x="64.0" y="141.00" width="183.2" height="1.02" fill="url(#g76)"/><rect x="64.0" y="142.00" width="183.2" height="1.02" fill="url(#g77)"/><rect x="64.0" y="143.00" width="183.2" height="1.02" fill="url(#g78)"/><rect x="64.0" y="144.00" width="183.2" height="1.02" fill="url(#g79)"/><rect x="64.0" y="145.00" width="183.2" height="1.02" fill="url(#g80)"/><rect x="64.0" y="146.00" width="183.2" height="1.02" fill="url(#g81)"/><rect x="64.0" y="147.00" width="183.2" height="1.02" fill="url(#g82)"/><rect x="64.0" y="148.00" width="183.2" height="1.02" fill="url(#g83)"/><rect x="64.0" y="149.00" width="183.2" height="1.02" fill="url(#g84)"/><rect x="64.0" y="150.00" width="183.2" height="1.02" fill="url(#g85)"/><rect x="64.0" y="151.00" width="183.2" height="1.02" fill="url(#g86)"/><rect x="64.0" y="152.00" width="183.2" height="1.02" fill="url(#g87)"/><rect x="64.0" y="153.00" width="183.2" height="1.02" fill="url(#g88)"/><rect x="64.0" y="154.00" width="183.2" height="1.02" fill="url(#g89)"/><rect x="64.0" y="155.00" width="183.2" height="1.02" fill="url(#g90)"/></g><line x1="64.0" y1="155.30" x2="247.2" y2="155.30" stroke="#0000ff" stroke-width="1.5"/><path d="M-45.00 101.00L59.50 205.50M-41.00 101.00L63.50 205.50M-37.00 101.00L67.50 205.50M-33.00 101.00L71.50 205.50M-29.00 101.00L75.50 205.50M-24.00 101.00L80.50 205.50M-20.00 101.00L84.50 205.50M-16.00 101.00L88.50 205.50M-12.00 101.00L92.50 205.50M-8.00 101.00L96.50 205.50M-4.00 101.00L100.50 205.50M1.00 101.00L105.50 205.50M5.00 101.00L109.50 205.50M9.00 101.00L113.50 205.50M13.00 101.00L117.50 205.50M17.00 101.00L121.50 205.50M21.00 101.00L125.50 205.50M25.00 101.00L129.50 205.50M30.00 101.00L134.50 205.50M34.00 101.00L138.50 205.50M38.00 101.00L142.50 205.50M42.00 101.00L146.50 205.50M46.00 101.00L150.50 205.50M50.00 101.00L154.50 205.50M55.00 101.00L159.50 205.50M59.00 101.00L163.50 205.50M63.00 101.00L167.50 205.50M67.00 101.00L171.50 205.50M71.00 101.00L175.50 205.50M75.00 101.00L179.50 205.50M79.00 101.00L183.50 205.50M84.00 101.00L188.50 205.50M88.00 101.00L192.50 205.50M92.00 101.00L196.50 205.50M96.00 101.00L200.50 205.50M100.00 101.00L204.50 205.50M104.00 101.00L208.50 205.50M109.00 101.00L213.50 205.50M113.00 101.00L217.50 205.50M117.00 101.00L221.50 205.50M121.00 101.00L225.50 205.50M125.00 101.00L229.50 205.50M129.00 101.00L233.50 205.50M133.00 101.00L237.50 205.50M138.00 101.00L242.50 205.50M142.00 101.00L246.50 205.50M146.00 101.00L250.50 205.50M150.00 101.00L254.50 205.50M154.00 101.00L258.50 205.50M158.00 101.00L262.50 205.50M163.00 101.00L267.50 205.50M167.00 101.00L271.50 205.50M171.00 101.00L275.50 205.50M175.00 101.00L279.50 205.50M179.00 101.00L283.50 205.50M183.00 101.00L287.50 205.50M188.00 101.00L292.50 205.50M192.00 101.00L296.50 205.50M196.00 101.00L300.50 205.50M200.00 101.00L304.50 205.50M204.00 101.00L308.50 205.50M208.00 101.00L312.50 205.50M212.00 101.00L316.50 205.50M217.00 101.00L321.50 205.50M221.00 101.00L325.50 205.50M225.00 101.00L329.50 205.50M229.00 101.00L333.50 205.50M233.00 101.00L337.50 205.50M237.00 101.00L341.50 205.50M242.00 101.00L346.50 205.50M246.00 101.00L350.50 205.50M250.00 101.00L354.50 205.50" stroke="#c0c0c0" stroke-width="1.0" fill="none" clip-path="url(#hc)"/><rect x="64.00" y="103.00" width="183.20" height="100.50" fill="none" stroke="#c8c8c8" stroke-width="0.9"/><path d="M64.00 153.40L64.57 153.40L65.14 153.40L65.70 153.40L66.27 153.40L66.84 153.40L67.41 153.40L67.97 153.40L68.54 153.40L69.11 153.40L69.68 153.40L70.25 153.40L70.81 153.40L71.38 153.40L71.95 153.40L72.52 153.40L73.09 153.40L73.65 153.40L74.22 153.40L74.79 153.40L75.36 153.40L75.92 153.40L76.49 153.40L77.06 153.40L77.63 153.40L78.20 153.40L78.76 153.40L79.33 153.40L79.90 153.40L80.47 153.40L81.03 153.40L81.60 153.40L82.17 153.40L82.74 153.40L83.31 153.40L83.87 153.40L84.44 153.40L85.01 153.40L85.58 153.40L86.14 153.40L86.71 153.40L87.28 153.40L87.85 153.40L88.42 153.40L88.98 153.40L89.55 153.40L90.12 153.40L90.69 153.40L91.25 153.40L91.82 153.40L92.39 153.40L92.96 153.40L93.53 153.40L94.09 153.40L94.66 153.40L95.23 153.40L95.80 153.40L96.37 153.40L96.93 153.40L97.50 153.40L98.07 153.40L98.64 153.40L99.20 153.40L99.77 153.40L100.34 153.40L100.91 153.40L101.48 153.40L102.04 153.40L102.61 153.40L103.18 153.39L103.75 153.39L104.32 153.39L104.89 153.38L105.45 153.38L106.02 153.37L106.59 153.37L107.16 153.36L107.72 153.35L108.29 153.34L108.86 153.31L109.42 153.25L109.99 153.18L110.55 153.09L111.10 152.98L111.65 152.81L112.19 152.62L112.71 152.41L113.21 152.15L113.70 151.85L114.17 151.53L114.64 151.20L115.09 150.86L115.53 150.50L115.96 150.12L116.37 149.73L116.76 149.32L117.14 148.90L117.50 148.46L117.85 148.01L118.19 147.55L118.52 147.09L118.84 146.62L119.15 146.15L119.46 145.67L119.75 145.18L120.03 144.69L120.31 144.19L120.58 143.70L120.85 143.19L121.11 142.69L121.36 142.18L121.61 141.67L121.86 141.15L122.10 140.64L122.33 140.12L122.56 139.61L122.79 139.09L123.01 138.56L123.23 138.04L123.45 137.52L123.66 136.99L123.87 136.46L124.07 135.93L124.28 135.40L124.48 134.87L124.68 134.34L124.88 133.81L125.08 133.27L125.28 132.74L125.48 132.21L125.67 131.68L125.86 131.14L126.05 130.61L126.24 130.07L126.43 129.54L126.62 129.00L126.81 128.46L126.99 127.93L127.18 127.39L127.37 126.86L127.56 126.32L127.75 125.79L127.94 125.25L128.13 124.72L128.32 124.18L128.51 123.64L128.70 123.11L128.88 122.57L129.07 122.04L129.26 121.50L129.45 120.97L129.64 120.43L129.83 119.90L130.03 119.36L130.22 118.83L130.42 118.30L130.61 117.76L130.81 117.23L131.01 116.70L131.22 116.17L131.42 115.64L131.63 115.11L131.83 114.58L132.04 114.06L132.25 113.53L132.47 113.00L132.68 112.47L132.89 111.95L133.11 111.42L133.33 110.90L133.55 110.37L133.77 109.85L133.99 109.33L134.21 108.81L134.43 108.28L134.65 107.76L134.87 107.23L135.10 106.71L135.32 106.18L135.55 105.66L135.79 105.15L136.03 104.63L136.28 104.12L136.53 103.62L136.79 103.12L137.06 102.63L137.34 102.14L137.63 101.65L137.93 101.16L138.23 100.68L138.54 100.20L138.85 99.73L139.17 99.25L139.49 98.78L139.82 98.32L140.15 97.85L140.48 97.39L140.82 96.93L141.15 96.47L141.49 96.01L141.83 95.56L142.19 95.12L142.55 94.69L142.92 94.25L143.28 93.81L143.64 93.37L143.99 92.92L144.33 92.47L144.66 92.01L145.00 91.54L145.33 91.09L145.68 90.64L146.03 90.20L146.40 89.77L146.78 89.34L147.16 88.91L147.54 88.49L147.94 88.07L148.34 87.67L148.75 87.27L149.16 86.88L149.59 86.50L150.02 86.14L150.46 85.80L150.91 85.47L151.37 85.15L151.85 84.84L152.33 84.54L152.82 84.24L153.32 83.96L153.82 83.67L154.32 83.39L154.82 83.12L155.31 82.85L155.81 82.58L156.31 82.31L156.82 82.06L157.33 81.81L157.84 81.56L158.35 81.31L158.86 81.07L159.38 80.83L159.90 80.59L160.41 80.35L160.93 80.11L161.44 79.87L161.95 79.62L162.47 79.37L162.98 79.12L163.49 78.87L164.00 78.62L164.51 78.37L165.02 78.12L165.53 77.87L166.04 77.63L166.56 77.40L167.08 77.17L167.60 76.96L168.13 76.75L168.66 76.54L169.19 76.34L169.72 76.14L170.25 75.95L170.79 75.75L171.33 75.57L171.87 75.38L172.41 75.20L172.95 75.03L173.49 74.85L174.03 74.69L174.57 74.52L175.12 74.37L175.66 74.21L176.21 74.06L176.76 73.92L177.31 73.78L177.86 73.64L178.41 73.51L178.97 73.37L179.52 73.25L180.07 73.12L180.63 72.99L181.18 72.87L181.74 72.75L182.29 72.64L182.85 72.53L183.41 72.42L183.97 72.31L184.52 72.20L185.08 72.09L185.64 71.99L186.20 71.89L186.76 71.78L187.31 71.69L187.87 71.59L188.43 71.49L188.99 71.40L189.55 71.31L190.12 71.22L190.68 71.13L191.24 71.04L191.80 70.95L192.36 70.86L192.92 70.78L193.48 70.70L194.04 70.61L194.61 70.54L195.17 70.46L195.73 70.38L196.30 70.31L196.86 70.24L197.42 70.18L197.99 70.12L198.55 70.06L199.12 70.00L199.68 69.94L200.25 69.89L200.81 69.83L201.38 69.77L201.94 69.72L202.51 69.66L203.07 69.60L203.64 69.54L204.20 69.48L204.76 69.41L205.33 69.34L205.89 69.27L206.45 69.20L207.02 69.13L207.58 69.06L208.15 68.99L208.71 68.93L209.27 68.87L209.84 68.82L210.41 68.77L210.97 68.72L211.54 68.68L212.10 68.63L212.67 68.59L213.24 68.54L213.80 68.50L214.37 68.45L214.93 68.41L215.50 68.36L216.07 68.31L216.63 68.26L217.20 68.21L217.76 68.15L218.33 68.10L218.89 68.05L219.46 68.00L220.02 67.95L220.59 67.90L221.16 67.85L221.72 67.80L222.29 67.75L222.85 67.71L223.42 67.66L223.98 67.61L224.55 67.56L225.12 67.52L225.68 67.47L226.25 67.42L226.81 67.37L227.38 67.33L227.94 67.28L228.51 67.23L229.08 67.18L229.64 67.13L230.21 67.08L230.77 67.03L231.34 66.98L231.90 66.94L232.47 66.89L233.04 66.84L233.60 66.80L234.17 66.75L234.73 66.71L235.30 66.66L235.87 66.62L236.43 66.58L237.00 66.55L237.57 66.51L238.13 66.47L238.70 66.44L239.27 66.41L239.83 66.37L240.40 66.34L240.97 66.30L241.53 66.27L242.10 66.23L242.67 66.19L243.23 66.16L243.80 66.12L244.37 66.08L244.93 66.05L245.50 66.01L246.07 65.97L246.63 65.94L247.20 65.90" stroke="#000" stroke-width="1.05" fill="none" stroke-linejoin="round" clip-path="url(#pc)"/><polygon points="155.45,77.00 156.80,81.04 161.06,81.08 157.64,83.61 158.92,87.67 155.45,85.20 151.98,87.67 153.26,83.61 149.84,81.08 154.10,81.04" fill="#f4ec6c"/><line x1="155.50" y1="27.70" x2="155.50" y2="203.50" stroke="#c0c0c0" stroke-width="1" stroke-dasharray="4.5 3.25" stroke-dashoffset="0.9"/><rect x="64.00" y="27.70" width="183.20" height="175.80" fill="none" stroke="#111" stroke-width="1.15"/><path d="M73.16 27.70v3.40M73.16 203.50v-3.40M82.32 27.70v3.40M82.32 203.50v-3.40M91.48 27.70v3.40M91.48 203.50v-3.40M100.64 27.70v3.40M100.64 203.50v-3.40M109.80 27.70v6.60M109.80 203.50v-6.60M118.96 27.70v3.40M118.96 203.50v-3.40M128.12 27.70v3.40M128.12 203.50v-3.40M137.28 27.70v3.40M137.28 203.50v-3.40M146.44 27.70v3.40M146.44 203.50v-3.40M155.60 27.70v6.60M155.60 203.50v-6.60M164.76 27.70v3.40M164.76 203.50v-3.40M173.92 27.70v3.40M173.92 203.50v-3.40M183.08 27.70v3.40M183.08 203.50v-3.40M192.24 27.70v3.40M192.24 203.50v-3.40M201.40 27.70v6.60M201.40 203.50v-6.60M210.56 27.70v3.40M210.56 203.50v-3.40M219.72 27.70v3.40M219.72 203.50v-3.40M228.88 27.70v3.40M228.88 203.50v-3.40M238.04 27.70v3.40M238.04 203.50v-3.40M64.00 52.81h3.40M247.20 52.81h-3.40M64.00 77.93h6.60M247.20 77.93h-6.60M64.00 103.04h3.40M247.20 103.04h-3.40M64.00 128.16h6.60M247.20 128.16h-6.60M64.00 153.27h3.40M247.20 153.27h-3.40M64.00 178.39h6.60M247.20 178.39h-6.60" stroke="#000" stroke-width="0.85" fill="none"/><path d="M64.00 103.00V203.50H247.20V103.00" fill="none" stroke="#d0d0d0" stroke-width="0.8" opacity="0.75"/><g><rect x="258.9" y="31.80" width="11.1" height="3.50" fill="#0000ff"/><rect x="258.9" y="35.00" width="11.1" height="5.34" fill="#0f0fff"/><rect x="258.9" y="40.04" width="11.1" height="5.34" fill="#1f1fff"/><rect x="258.9" y="45.08" width="11.1" height="5.34" fill="#2e2eff"/><rect x="258.9" y="50.12" width="11.1" height="5.34" fill="#3e3eff"/><rect x="258.9" y="55.16" width="11.1" height="5.34" fill="#4d4dff"/><rect x="258.9" y="60.20" width="11.1" height="5.34" fill="#5d5dff"/><rect x="258.9" y="65.24" width="11.1" height="5.34" fill="#6c6cff"/><rect x="258.9" y="70.28" width="11.1" height="5.34" fill="#7c7cff"/><rect x="258.9" y="75.32" width="11.1" height="5.34" fill="#8b8bff"/><rect x="258.9" y="80.36" width="11.1" height="5.34" fill="#9b9bff"/><rect x="258.9" y="85.40" width="11.1" height="5.34" fill="#aaaaff"/><rect x="258.9" y="90.44" width="11.1" height="5.34" fill="#b9b9ff"/><rect x="258.9" y="95.48" width="11.1" height="5.34" fill="#c9c9ff"/><rect x="258.9" y="100.52" width="11.1" height="5.34" fill="#d8d8ff"/><rect x="258.9" y="105.56" width="11.1" height="5.34" fill="#e8e8ff"/><rect x="258.9" y="110.60" width="11.1" height="5.34" fill="#f7f7ff"/><rect x="258.9" y="115.64" width="11.1" height="5.34" fill="#fff7f7"/><rect x="258.9" y="120.68" width="11.1" height="5.34" fill="#ffe8e8"/><rect x="258.9" y="125.72" width="11.1" height="5.34" fill="#ffd8d8"/><rect x="258.9" y="130.76" width="11.1" height="5.34" fill="#ffc9c9"/><rect x="258.9" y="135.80" width="11.1" height="5.34" fill="#ffb9b9"/><rect x="258.9" y="140.84" width="11.1" height="5.34" fill="#ffaaaa"/><rect x="258.9" y="145.88" width="11.1" height="5.34" fill="#ff9b9b"/><rect x="258.9" y="150.92" width="11.1" height="5.34" fill="#ff8b8b"/><rect x="258.9" y="155.96" width="11.1" height="5.34" fill="#ff7c7c"/><rect x="258.9" y="161.00" width="11.1" height="5.34" fill="#ff6c6c"/><rect x="258.9" y="166.04" width="11.1" height="5.34" fill="#ff5d5d"/><rect x="258.9" y="171.08" width="11.1" height="5.34" fill="#ff4d4d"/><rect x="258.9" y="176.12" width="11.1" height="5.34" fill="#ff3e3e"/><rect x="258.9" y="181.16" width="11.1" height="5.34" fill="#ff2e2e"/><rect x="258.9" y="186.20" width="11.1" height="5.34" fill="#ff1f1f"/><rect x="258.9" y="191.24" width="11.1" height="5.34" fill="#ff0f0f"/><rect x="258.9" y="196.28" width="11.1" height="5.42" fill="#ff0000"/></g><text x="57.2" y="31.60" font-size="13" text-anchor="end">0.0</text><text x="57.2" y="81.83" font-size="13" text-anchor="end">-0.2</text><text x="57.2" y="132.06" font-size="13" text-anchor="end">-0.4</text><text x="57.2" y="182.29" font-size="13" text-anchor="end">-0.6</text><text x="64.00" y="221" font-size="13" text-anchor="middle">-2</text><text x="109.80" y="221" font-size="13" text-anchor="middle">-1</text><text x="155.60" y="221" font-size="13" text-anchor="middle">0</text><text x="201.40" y="221" font-size="13" text-anchor="middle">1</text><text x="247.20" y="221" font-size="13" text-anchor="middle">2</text><text x="149" y="235" font-size="18" style="stroke-width:0.2px">α</text><text x="158.8" y="240" font-size="8">0</text><g transform="translate(23.7,133.2) rotate(-90)"><text x="0" y="0" font-size="15" style="stroke-width:0.2px">T</text><text x="9.0" y="5.1" font-size="9.2">21</text><text x="18.0" y="0" font-size="15" style="stroke-width:0.2px">(K)</text></g><text x="274.7" y="36.00" font-size="8">-2</text><text x="274.7" y="77.63" font-size="8">-1</text><text x="274.7" y="119.26" font-size="8">0</text><text x="274.7" y="160.89" font-size="8">1</text><text x="274.7" y="202.52" font-size="8">2</text><text x="287" y="119.4" font-size="19" style="stroke-width:0.2px">α</text><text x="296.8" y="123.7" font-size="8.5">a</text></svg></body></html>
